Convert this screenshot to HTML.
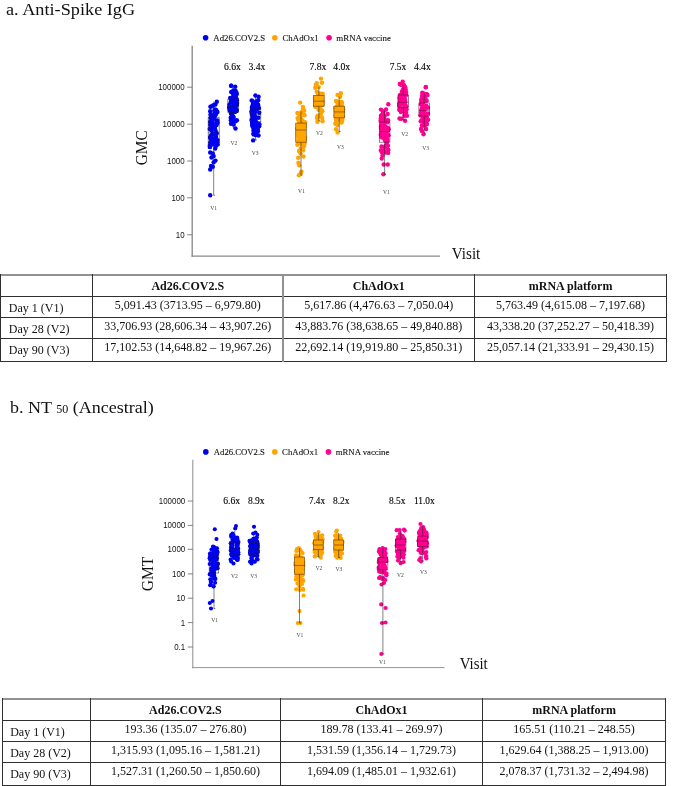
<!DOCTYPE html>
<html lang="en"><head><meta charset="utf-8"><title>Figure</title>
<style>
html,body{margin:0;padding:0;background:#fff}
#pg{position:relative;width:685px;height:786px;overflow:hidden;background:#fff;font-family:"Liberation Serif","Times New Roman",serif;color:#111}
#pg svg{position:absolute;left:0;top:0}
.ttl{position:absolute;white-space:nowrap;font-size:17.5px;line-height:20px;color:#111;transform-origin:0 0}
.ttl small{font-size:11.7px}
.ln{position:absolute;background:#2e2e2e}
.tx{position:absolute;white-space:nowrap;font-size:12px;line-height:14px;text-align:center;color:#111}
.tx.b{font-weight:bold}
.tx.l{text-align:left}
</style></head><body>
<div id="pg">
<div class="ttl" style="left:6.0px;top:-1.1px;transform:scaleX(1.042)">a. Anti-Spike IgG</div>
<div class="ttl" style="left:10.4px;top:397.45px;transform:scaleX(1.03)">b. NT <small>50</small> (Ancestral)</div>
<svg width="685" height="786" viewBox="0 0 685 786">
<g id="chartA"><circle cx="205.6" cy="37.8" r="2.8" fill="#0000f0"/><text x="213.3" y="40.5" font-family='"Liberation Serif","Times New Roman",serif' font-size="8.6" fill="#111" stroke="#111" stroke-width="0.1" textLength="51.9" lengthAdjust="spacingAndGlyphs">Ad26.COV2.S</text><circle cx="274.8" cy="37.8" r="2.8" fill="#ffa400"/><text x="282.5" y="40.5" font-family='"Liberation Serif","Times New Roman",serif' font-size="8.6" fill="#111" stroke="#111" stroke-width="0.1" textLength="36.2" lengthAdjust="spacingAndGlyphs">ChAdOx1</text><circle cx="329.1" cy="37.8" r="2.8" fill="#ff0090"/><text x="336.3" y="40.5" font-family='"Liberation Serif","Times New Roman",serif' font-size="8.6" fill="#111" stroke="#111" stroke-width="0.1" textLength="54.6" lengthAdjust="spacingAndGlyphs">mRNA vaccine</text><line x1="192.2" y1="45.8" x2="192.2" y2="256.70000000000005" stroke="#8a8a8a" stroke-width="1.35"/><line x1="191.5" y1="256.1" x2="440" y2="256.1" stroke="#8a8a8a" stroke-width="1.15"/><line x1="187.2" y1="87.2" x2="192.2" y2="87.2" stroke="#666" stroke-width="0.8"/><text x="158.2" y="90.2" font-family='"Liberation Sans",Arial,sans-serif' font-size="8.8" fill="#111" textLength="26.4" lengthAdjust="spacingAndGlyphs">100000</text><line x1="187.2" y1="124.2" x2="192.2" y2="124.2" stroke="#666" stroke-width="0.8"/><text x="162.6" y="127.2" font-family='"Liberation Sans",Arial,sans-serif' font-size="8.8" fill="#111" textLength="22.0" lengthAdjust="spacingAndGlyphs">10000</text><line x1="187.2" y1="161" x2="192.2" y2="161" stroke="#666" stroke-width="0.8"/><text x="167.0" y="164.0" font-family='"Liberation Sans",Arial,sans-serif' font-size="8.8" fill="#111" textLength="17.6" lengthAdjust="spacingAndGlyphs">1000</text><line x1="187.2" y1="197.8" x2="192.2" y2="197.8" stroke="#666" stroke-width="0.8"/><text x="171.4" y="200.8" font-family='"Liberation Sans",Arial,sans-serif' font-size="8.8" fill="#111" textLength="13.2" lengthAdjust="spacingAndGlyphs">100</text><line x1="187.2" y1="234.8" x2="192.2" y2="234.8" stroke="#666" stroke-width="0.8"/><text x="175.8" y="237.8" font-family='"Liberation Sans",Arial,sans-serif' font-size="8.8" fill="#111" textLength="8.8" lengthAdjust="spacingAndGlyphs">10</text><text transform="translate(147.1,147.8) scale(1.075,1) rotate(-90)" font-family='"Liberation Serif","Times New Roman",serif' font-size="15.4" fill="#111" text-anchor="middle">GMC</text><text x="451.8" y="258.6" font-family='"Liberation Serif","Times New Roman",serif' font-size="16.3" fill="#111" textLength="28.5" lengthAdjust="spacingAndGlyphs">Visit</text><text x="224.0" y="70.4" font-family='"Liberation Serif","Times New Roman",serif' font-size="10.2" fill="#000" stroke="#000" stroke-width="0.12" textLength="16.8" lengthAdjust="spacingAndGlyphs">6.6x</text><text x="248.5" y="70.4" font-family='"Liberation Serif","Times New Roman",serif' font-size="10.2" fill="#000" stroke="#000" stroke-width="0.12" textLength="16.9" lengthAdjust="spacingAndGlyphs">3.4x</text><text x="309.5" y="70.4" font-family='"Liberation Serif","Times New Roman",serif' font-size="10.2" fill="#000" stroke="#000" stroke-width="0.12" textLength="16.8" lengthAdjust="spacingAndGlyphs">7.8x</text><text x="333.3" y="70.4" font-family='"Liberation Serif","Times New Roman",serif' font-size="10.2" fill="#000" stroke="#000" stroke-width="0.12" textLength="16.9" lengthAdjust="spacingAndGlyphs">4.0x</text><text x="389.7" y="70.4" font-family='"Liberation Serif","Times New Roman",serif' font-size="10.2" fill="#000" stroke="#000" stroke-width="0.12" textLength="16.5" lengthAdjust="spacingAndGlyphs">7.5x</text><text x="413.9" y="70.4" font-family='"Liberation Serif","Times New Roman",serif' font-size="10.2" fill="#000" stroke="#000" stroke-width="0.12" textLength="16.8" lengthAdjust="spacingAndGlyphs">4.4x</text><g stroke="#2c2c2c" stroke-width="0.6" fill="none"><line x1="213.5" y1="195.3" x2="215.1" y2="195.3"/><line x1="213.7" y1="101.7" x2="213.7" y2="117.2"/><line x1="213.7" y1="145.4" x2="213.7" y2="195.3"/></g><g fill="#0000f0"><circle cx="214.9" cy="127.0" r="2.2"/><circle cx="210.3" cy="142.4" r="2.2"/><circle cx="210.2" cy="111.2" r="2.2"/><circle cx="213.8" cy="128.0" r="2.2"/><circle cx="210.3" cy="137.6" r="2.2"/><circle cx="216.3" cy="143.4" r="2.2"/><circle cx="214.7" cy="142.3" r="2.2"/><circle cx="217.3" cy="142.2" r="2.2"/><circle cx="217.5" cy="112.1" r="2.2"/><circle cx="210.1" cy="122.0" r="2.2"/><circle cx="210.9" cy="142.6" r="2.2"/><circle cx="210.6" cy="117.9" r="2.2"/><circle cx="211.1" cy="117.5" r="2.2"/><circle cx="212.7" cy="116.6" r="2.2"/><circle cx="210.2" cy="124.9" r="2.2"/><circle cx="211.3" cy="130.5" r="2.2"/><circle cx="212.2" cy="122.5" r="2.2"/><circle cx="214.4" cy="110.6" r="2.2"/><circle cx="216.1" cy="114.1" r="2.2"/><circle cx="215.3" cy="137.5" r="2.2"/><circle cx="213.9" cy="133.9" r="2.2"/><circle cx="212.0" cy="106.2" r="2.2"/><circle cx="213.0" cy="142.2" r="2.2"/><circle cx="215.8" cy="131.5" r="2.2"/><circle cx="210.0" cy="145.3" r="2.2"/><circle cx="214.3" cy="113.4" r="2.2"/><circle cx="215.3" cy="144.3" r="2.2"/><circle cx="214.5" cy="118.7" r="2.2"/><circle cx="216.4" cy="110.3" r="2.2"/><circle cx="217.3" cy="120.5" r="2.2"/><circle cx="210.2" cy="137.4" r="2.2"/><circle cx="217.6" cy="122.8" r="2.2"/><circle cx="212.8" cy="139.6" r="2.2"/><circle cx="215.0" cy="115.7" r="2.2"/><circle cx="211.0" cy="135.9" r="2.2"/><circle cx="215.8" cy="137.8" r="2.2"/><circle cx="210.7" cy="137.3" r="2.2"/><circle cx="216.7" cy="133.3" r="2.2"/><circle cx="214.1" cy="142.7" r="2.2"/><circle cx="213.0" cy="142.8" r="2.2"/><circle cx="212.6" cy="118.7" r="2.2"/><circle cx="211.6" cy="139.7" r="2.2"/><circle cx="211.6" cy="142.3" r="2.2"/><circle cx="211.8" cy="135.3" r="2.2"/><circle cx="212.7" cy="133.5" r="2.2"/><circle cx="215.2" cy="109.5" r="2.2"/><circle cx="215.1" cy="129.8" r="2.2"/><circle cx="215.9" cy="146.1" r="2.2"/><circle cx="210.5" cy="114.6" r="2.2"/><circle cx="214.8" cy="144.6" r="2.2"/><circle cx="211.4" cy="139.4" r="2.2"/><circle cx="211.0" cy="135.6" r="2.2"/><circle cx="209.7" cy="128.9" r="2.2"/><circle cx="210.9" cy="138.1" r="2.2"/><circle cx="209.9" cy="147.1" r="2.2"/><circle cx="216.7" cy="143.4" r="2.2"/><circle cx="211.7" cy="123.0" r="2.2"/><circle cx="212.5" cy="124.3" r="2.2"/><circle cx="216.5" cy="125.1" r="2.2"/><circle cx="217.6" cy="140.1" r="2.2"/><circle cx="210.4" cy="106.7" r="2.2"/><circle cx="210.5" cy="137.5" r="2.2"/><circle cx="216.3" cy="122.9" r="2.2"/><circle cx="211.0" cy="145.1" r="2.2"/><circle cx="213.9" cy="139.5" r="2.2"/><circle cx="209.9" cy="146.9" r="2.2"/><circle cx="216.6" cy="121.6" r="2.2"/><circle cx="212.6" cy="127.0" r="2.2"/><circle cx="211.0" cy="115.8" r="2.2"/><circle cx="215.9" cy="136.1" r="2.2"/><circle cx="216.2" cy="125.0" r="2.2"/><circle cx="217.6" cy="144.5" r="2.2"/><circle cx="215.4" cy="104.5" r="2.2"/><circle cx="215.2" cy="148.5" r="2.2"/><circle cx="210.2" cy="195.3" r="2.2"/><circle cx="216.8" cy="101.7" r="2.2"/><circle cx="213.4" cy="105.2" r="2.2"/><circle cx="210.2" cy="152.5" r="2.2"/><circle cx="212.8" cy="153.4" r="2.2"/><circle cx="213.7" cy="156.1" r="2.2"/><circle cx="211.5" cy="157.5" r="2.2"/><circle cx="215.5" cy="160.6" r="2.2"/><circle cx="213.7" cy="162.3" r="2.2"/><circle cx="211.0" cy="165.9" r="2.2"/><circle cx="212.8" cy="166.8" r="2.2"/><circle cx="210.2" cy="169.5" r="2.2"/></g><g stroke="#1a1a3a" stroke-opacity="0.75" stroke-width="0.7" fill="none"><rect x="208.2" y="117.2" width="11.0" height="28.2" fill="none" fill-opacity="0.85"/><line x1="208.2" y1="133.0" x2="219.2" y2="133.0"/></g><g stroke="#2c2c2c" stroke-width="0.6" fill="none"><line x1="233.0" y1="128.0" x2="234.6" y2="128.0"/><line x1="233.2" y1="88.0" x2="233.2" y2="99.0"/><line x1="233.2" y1="112.4" x2="233.2" y2="128.0"/></g><g fill="#0000f0"><circle cx="231.0" cy="113.5" r="2.2"/><circle cx="233.3" cy="90.5" r="2.2"/><circle cx="229.4" cy="104.4" r="2.2"/><circle cx="231.4" cy="108.1" r="2.2"/><circle cx="236.9" cy="105.1" r="2.2"/><circle cx="232.8" cy="122.8" r="2.2"/><circle cx="236.8" cy="94.1" r="2.2"/><circle cx="231.0" cy="101.2" r="2.2"/><circle cx="230.8" cy="111.8" r="2.2"/><circle cx="236.4" cy="110.3" r="2.2"/><circle cx="235.9" cy="120.7" r="2.2"/><circle cx="235.6" cy="91.0" r="2.2"/><circle cx="229.9" cy="108.1" r="2.2"/><circle cx="235.5" cy="93.9" r="2.2"/><circle cx="235.2" cy="86.7" r="2.2"/><circle cx="235.5" cy="99.5" r="2.2"/><circle cx="231.9" cy="106.9" r="2.2"/><circle cx="232.4" cy="115.2" r="2.2"/><circle cx="235.0" cy="121.4" r="2.2"/><circle cx="230.4" cy="108.8" r="2.2"/><circle cx="236.4" cy="111.0" r="2.2"/><circle cx="235.8" cy="108.1" r="2.2"/><circle cx="237.0" cy="100.5" r="2.2"/><circle cx="233.6" cy="100.7" r="2.2"/><circle cx="230.2" cy="97.9" r="2.2"/><circle cx="234.4" cy="108.6" r="2.2"/><circle cx="232.7" cy="102.0" r="2.2"/><circle cx="230.9" cy="120.2" r="2.2"/><circle cx="231.2" cy="92.0" r="2.2"/><circle cx="233.9" cy="103.9" r="2.2"/><circle cx="231.3" cy="113.8" r="2.2"/><circle cx="236.5" cy="101.2" r="2.2"/><circle cx="232.0" cy="108.8" r="2.2"/><circle cx="236.4" cy="92.7" r="2.2"/><circle cx="232.6" cy="109.8" r="2.2"/><circle cx="233.5" cy="117.3" r="2.2"/><circle cx="233.4" cy="99.9" r="2.2"/><circle cx="230.7" cy="117.7" r="2.2"/><circle cx="229.2" cy="107.4" r="2.2"/><circle cx="233.0" cy="108.1" r="2.2"/><circle cx="235.0" cy="99.9" r="2.2"/><circle cx="233.3" cy="97.3" r="2.2"/><circle cx="233.6" cy="102.8" r="2.2"/><circle cx="233.7" cy="107.1" r="2.2"/><circle cx="231.2" cy="101.2" r="2.2"/><circle cx="233.3" cy="103.0" r="2.2"/><circle cx="233.7" cy="124.6" r="2.2"/><circle cx="232.7" cy="107.5" r="2.2"/><circle cx="233.3" cy="96.6" r="2.2"/><circle cx="234.7" cy="98.0" r="2.2"/><circle cx="233.0" cy="93.7" r="2.2"/><circle cx="236.7" cy="110.0" r="2.2"/><circle cx="236.7" cy="99.3" r="2.2"/><circle cx="231.3" cy="85.8" r="2.2"/><circle cx="235.9" cy="96.9" r="2.2"/><circle cx="232.7" cy="109.6" r="2.2"/><circle cx="229.8" cy="110.2" r="2.2"/><circle cx="234.6" cy="106.3" r="2.2"/><circle cx="235.5" cy="110.3" r="2.2"/><circle cx="234.9" cy="111.1" r="2.2"/><circle cx="234.5" cy="102.4" r="2.2"/><circle cx="236.9" cy="120.2" r="2.2"/><circle cx="231.0" cy="123.8" r="2.2"/><circle cx="233.1" cy="116.6" r="2.2"/><circle cx="237.1" cy="102.9" r="2.2"/><circle cx="232.7" cy="109.2" r="2.2"/><circle cx="233.3" cy="100.6" r="2.2"/><circle cx="231.7" cy="102.4" r="2.2"/><circle cx="235.0" cy="112.1" r="2.2"/><circle cx="232.7" cy="119.8" r="2.2"/><circle cx="229.3" cy="107.7" r="2.2"/><circle cx="233.3" cy="98.9" r="2.2"/><circle cx="231.1" cy="85.7" r="2.2"/><circle cx="235.5" cy="128.5" r="2.2"/></g><g stroke="#1a1a3a" stroke-opacity="0.75" stroke-width="0.7" fill="none"><rect x="227.9" y="99.0" width="10.6" height="13.4" fill="none" fill-opacity="0.85"/><line x1="227.9" y1="106.0" x2="238.5" y2="106.0"/></g><g stroke="#2c2c2c" stroke-width="0.6" fill="none"><line x1="255.3" y1="140.0" x2="256.9" y2="140.0"/><line x1="255.5" y1="97.0" x2="255.5" y2="108.0"/><line x1="255.5" y1="121.7" x2="255.5" y2="140.0"/></g><g fill="#0000f0"><circle cx="257.8" cy="130.1" r="2.2"/><circle cx="253.6" cy="120.7" r="2.2"/><circle cx="251.8" cy="114.1" r="2.2"/><circle cx="252.5" cy="116.8" r="2.2"/><circle cx="254.9" cy="106.9" r="2.2"/><circle cx="253.6" cy="134.4" r="2.2"/><circle cx="252.7" cy="104.9" r="2.2"/><circle cx="257.1" cy="129.1" r="2.2"/><circle cx="252.2" cy="108.4" r="2.2"/><circle cx="254.9" cy="132.7" r="2.2"/><circle cx="252.1" cy="121.7" r="2.2"/><circle cx="257.9" cy="131.3" r="2.2"/><circle cx="252.2" cy="109.4" r="2.2"/><circle cx="258.4" cy="117.8" r="2.2"/><circle cx="255.1" cy="112.0" r="2.2"/><circle cx="258.9" cy="108.0" r="2.2"/><circle cx="253.6" cy="128.3" r="2.2"/><circle cx="253.4" cy="125.4" r="2.2"/><circle cx="252.4" cy="126.0" r="2.2"/><circle cx="253.1" cy="117.1" r="2.2"/><circle cx="254.0" cy="118.4" r="2.2"/><circle cx="253.8" cy="109.1" r="2.2"/><circle cx="255.5" cy="134.7" r="2.2"/><circle cx="251.6" cy="120.0" r="2.2"/><circle cx="253.5" cy="125.3" r="2.2"/><circle cx="255.9" cy="135.0" r="2.2"/><circle cx="253.0" cy="116.9" r="2.2"/><circle cx="252.4" cy="119.6" r="2.2"/><circle cx="255.5" cy="120.5" r="2.2"/><circle cx="258.2" cy="105.0" r="2.2"/><circle cx="257.0" cy="105.3" r="2.2"/><circle cx="259.4" cy="124.2" r="2.2"/><circle cx="257.2" cy="104.2" r="2.2"/><circle cx="256.6" cy="134.6" r="2.2"/><circle cx="251.9" cy="107.1" r="2.2"/><circle cx="252.5" cy="121.5" r="2.2"/><circle cx="253.5" cy="133.4" r="2.2"/><circle cx="252.8" cy="123.8" r="2.2"/><circle cx="258.5" cy="135.5" r="2.2"/><circle cx="256.9" cy="127.0" r="2.2"/><circle cx="253.8" cy="113.5" r="2.2"/><circle cx="255.2" cy="124.0" r="2.2"/><circle cx="253.6" cy="122.4" r="2.2"/><circle cx="259.2" cy="126.3" r="2.2"/><circle cx="253.5" cy="130.4" r="2.2"/><circle cx="259.2" cy="112.8" r="2.2"/><circle cx="251.5" cy="111.4" r="2.2"/><circle cx="254.6" cy="125.8" r="2.2"/><circle cx="253.1" cy="102.9" r="2.2"/><circle cx="255.5" cy="117.3" r="2.2"/><circle cx="252.2" cy="124.7" r="2.2"/><circle cx="254.7" cy="115.3" r="2.2"/><circle cx="253.9" cy="117.6" r="2.2"/><circle cx="253.4" cy="115.7" r="2.2"/><circle cx="257.5" cy="104.1" r="2.2"/><circle cx="256.8" cy="108.5" r="2.2"/><circle cx="254.6" cy="110.5" r="2.2"/><circle cx="252.7" cy="101.2" r="2.2"/><circle cx="251.9" cy="112.6" r="2.2"/><circle cx="258.2" cy="100.3" r="2.2"/><circle cx="257.4" cy="128.5" r="2.2"/><circle cx="258.0" cy="105.8" r="2.2"/><circle cx="255.5" cy="124.7" r="2.2"/><circle cx="258.2" cy="126.6" r="2.2"/><circle cx="256.2" cy="122.8" r="2.2"/><circle cx="258.6" cy="96.7" r="2.2"/><circle cx="253.3" cy="108.5" r="2.2"/><circle cx="251.7" cy="100.4" r="2.2"/><circle cx="252.3" cy="122.9" r="2.2"/><circle cx="258.2" cy="123.7" r="2.2"/><circle cx="256.5" cy="101.4" r="2.2"/><circle cx="256.9" cy="109.8" r="2.2"/><circle cx="255.4" cy="95.5" r="2.2"/><circle cx="253.1" cy="140.4" r="2.2"/></g><g stroke="#1a1a3a" stroke-opacity="0.75" stroke-width="0.7" fill="none"><rect x="250.2" y="108.0" width="10.6" height="13.7" fill="none" fill-opacity="0.85"/><line x1="250.2" y1="115.0" x2="260.8" y2="115.0"/></g><text x="213.7" y="210.2" font-family='"Liberation Serif","Times New Roman",serif' font-size="5.6" fill="#4a4a4a" text-anchor="middle">V1</text><text x="233.9" y="144.6" font-family='"Liberation Serif","Times New Roman",serif' font-size="5.6" fill="#4a4a4a" text-anchor="middle">V2</text><text x="255.2" y="154.8" font-family='"Liberation Serif","Times New Roman",serif' font-size="5.6" fill="#4a4a4a" text-anchor="middle">V3</text><g fill="#ffa400"><circle cx="301.0" cy="138.9" r="2.2"/><circle cx="301.3" cy="112.2" r="2.2"/><circle cx="302.9" cy="127.8" r="2.2"/><circle cx="299.0" cy="126.5" r="2.2"/><circle cx="302.8" cy="142.7" r="2.2"/><circle cx="298.6" cy="136.4" r="2.2"/><circle cx="301.0" cy="128.0" r="2.2"/><circle cx="302.5" cy="120.5" r="2.2"/><circle cx="303.1" cy="143.9" r="2.2"/><circle cx="297.6" cy="118.1" r="2.2"/><circle cx="298.2" cy="119.2" r="2.2"/><circle cx="299.4" cy="129.5" r="2.2"/><circle cx="297.5" cy="128.4" r="2.2"/><circle cx="299.2" cy="129.3" r="2.2"/><circle cx="302.4" cy="121.9" r="2.2"/><circle cx="299.3" cy="114.8" r="2.2"/><circle cx="300.7" cy="117.5" r="2.2"/><circle cx="297.9" cy="128.7" r="2.2"/><circle cx="304.8" cy="139.5" r="2.2"/><circle cx="304.5" cy="125.4" r="2.2"/><circle cx="303.6" cy="132.2" r="2.2"/><circle cx="299.1" cy="127.6" r="2.2"/><circle cx="298.7" cy="140.9" r="2.2"/><circle cx="301.2" cy="124.6" r="2.2"/><circle cx="304.6" cy="127.0" r="2.2"/><circle cx="302.6" cy="128.7" r="2.2"/><circle cx="300.9" cy="134.5" r="2.2"/><circle cx="300.9" cy="131.5" r="2.2"/><circle cx="300.6" cy="130.2" r="2.2"/><circle cx="299.8" cy="128.0" r="2.2"/><circle cx="299.5" cy="139.4" r="2.2"/><circle cx="303.0" cy="130.6" r="2.2"/><circle cx="303.7" cy="129.4" r="2.2"/><circle cx="299.3" cy="124.4" r="2.2"/><circle cx="305.0" cy="122.2" r="2.2"/><circle cx="301.7" cy="143.0" r="2.2"/><circle cx="299.2" cy="122.4" r="2.2"/><circle cx="297.4" cy="144.7" r="2.2"/><circle cx="299.0" cy="124.2" r="2.2"/><circle cx="298.5" cy="128.7" r="2.2"/><circle cx="304.1" cy="110.4" r="2.2"/><circle cx="304.3" cy="139.7" r="2.2"/><circle cx="304.5" cy="115.3" r="2.2"/><circle cx="297.4" cy="113.0" r="2.2"/><circle cx="302.9" cy="124.6" r="2.2"/><circle cx="302.2" cy="112.1" r="2.2"/><circle cx="299.3" cy="139.2" r="2.2"/><circle cx="298.0" cy="142.5" r="2.2"/><circle cx="299.4" cy="119.9" r="2.2"/><circle cx="302.9" cy="132.9" r="2.2"/><circle cx="302.2" cy="143.9" r="2.2"/><circle cx="299.4" cy="128.7" r="2.2"/><circle cx="298.3" cy="119.5" r="2.2"/><circle cx="298.3" cy="126.0" r="2.2"/><circle cx="301.0" cy="140.3" r="2.2"/><circle cx="305.0" cy="137.4" r="2.2"/><circle cx="298.5" cy="124.1" r="2.2"/><circle cx="297.7" cy="133.1" r="2.2"/><circle cx="298.9" cy="127.3" r="2.2"/><circle cx="299.1" cy="136.6" r="2.2"/><circle cx="303.0" cy="108.8" r="2.2"/><circle cx="300.3" cy="120.1" r="2.2"/><circle cx="300.0" cy="118.3" r="2.2"/><circle cx="299.7" cy="141.4" r="2.2"/><circle cx="304.7" cy="143.5" r="2.2"/><circle cx="298.0" cy="135.5" r="2.2"/><circle cx="303.9" cy="114.2" r="2.2"/><circle cx="298.7" cy="129.7" r="2.2"/><circle cx="300.2" cy="128.9" r="2.2"/><circle cx="300.6" cy="143.6" r="2.2"/><circle cx="304.0" cy="123.8" r="2.2"/><circle cx="302.7" cy="134.6" r="2.2"/><circle cx="302.9" cy="107.0" r="2.2"/><circle cx="300.9" cy="148.5" r="2.2"/><circle cx="300.2" cy="102.6" r="2.2"/><circle cx="299.0" cy="151.0" r="2.2"/><circle cx="303.2" cy="150.2" r="2.2"/><circle cx="300.5" cy="153.6" r="2.2"/><circle cx="304.0" cy="146.5" r="2.2"/><circle cx="298.4" cy="162.7" r="2.2"/><circle cx="299.3" cy="165.4" r="2.2"/><circle cx="301.4" cy="171.6" r="2.2"/><circle cx="300.7" cy="173.4" r="2.2"/><circle cx="298.9" cy="175.2" r="2.2"/><circle cx="303.5" cy="156.5" r="2.2"/><circle cx="298.2" cy="157.8" r="2.2"/></g><g stroke="#2c2c2c" stroke-width="0.6" fill="none"><line x1="300.8" y1="175.2" x2="302.4" y2="175.2"/><line x1="301.0" y1="111.4" x2="301.0" y2="123.1"/><line x1="301.0" y1="142.2" x2="301.0" y2="175.2"/></g><g stroke="#4a2a00" stroke-opacity="0.75" stroke-width="0.7" fill="none"><rect x="295.7" y="123.1" width="10.6" height="19.1" fill="#ffa400" fill-opacity="0.85"/><line x1="295.7" y1="130.0" x2="306.3" y2="130.0"/></g><g fill="#ffa400"><circle cx="319.6" cy="101.5" r="2.2"/><circle cx="322.3" cy="111.2" r="2.2"/><circle cx="321.5" cy="101.2" r="2.2"/><circle cx="316.9" cy="117.7" r="2.2"/><circle cx="319.1" cy="105.7" r="2.2"/><circle cx="320.4" cy="104.9" r="2.2"/><circle cx="320.1" cy="116.1" r="2.2"/><circle cx="321.0" cy="94.9" r="2.2"/><circle cx="315.2" cy="87.7" r="2.2"/><circle cx="321.2" cy="104.6" r="2.2"/><circle cx="320.1" cy="103.7" r="2.2"/><circle cx="316.9" cy="99.3" r="2.2"/><circle cx="320.0" cy="106.1" r="2.2"/><circle cx="315.5" cy="99.5" r="2.2"/><circle cx="319.1" cy="96.1" r="2.2"/><circle cx="316.7" cy="91.7" r="2.2"/><circle cx="319.7" cy="95.8" r="2.2"/><circle cx="318.6" cy="109.7" r="2.2"/><circle cx="322.6" cy="101.8" r="2.2"/><circle cx="318.7" cy="87.1" r="2.2"/><circle cx="316.8" cy="83.2" r="2.2"/><circle cx="320.5" cy="101.7" r="2.2"/><circle cx="318.9" cy="100.4" r="2.2"/><circle cx="320.3" cy="103.2" r="2.2"/><circle cx="320.2" cy="93.7" r="2.2"/><circle cx="322.3" cy="104.9" r="2.2"/><circle cx="317.6" cy="101.6" r="2.2"/><circle cx="318.3" cy="103.8" r="2.2"/><circle cx="321.3" cy="98.2" r="2.2"/><circle cx="320.8" cy="94.5" r="2.2"/><circle cx="322.7" cy="93.7" r="2.2"/><circle cx="317.4" cy="101.0" r="2.2"/><circle cx="316.7" cy="104.3" r="2.2"/><circle cx="321.0" cy="94.0" r="2.2"/><circle cx="318.9" cy="93.6" r="2.2"/><circle cx="318.2" cy="103.9" r="2.2"/><circle cx="320.2" cy="107.8" r="2.2"/><circle cx="318.0" cy="106.5" r="2.2"/><circle cx="316.6" cy="99.2" r="2.2"/><circle cx="315.3" cy="106.7" r="2.2"/><circle cx="315.4" cy="100.2" r="2.2"/><circle cx="322.0" cy="82.7" r="2.2"/><circle cx="320.8" cy="114.5" r="2.2"/><circle cx="317.5" cy="100.8" r="2.2"/><circle cx="320.9" cy="110.4" r="2.2"/><circle cx="317.9" cy="115.7" r="2.2"/><circle cx="317.9" cy="104.1" r="2.2"/><circle cx="314.9" cy="97.9" r="2.2"/><circle cx="317.1" cy="106.5" r="2.2"/><circle cx="315.9" cy="84.8" r="2.2"/><circle cx="322.6" cy="121.2" r="2.2"/><circle cx="321.5" cy="103.7" r="2.2"/><circle cx="321.5" cy="110.3" r="2.2"/><circle cx="318.7" cy="98.0" r="2.2"/><circle cx="317.9" cy="102.5" r="2.2"/><circle cx="317.8" cy="106.9" r="2.2"/><circle cx="322.1" cy="97.7" r="2.2"/><circle cx="321.4" cy="111.3" r="2.2"/><circle cx="321.0" cy="103.1" r="2.2"/><circle cx="315.4" cy="103.8" r="2.2"/><circle cx="322.3" cy="101.9" r="2.2"/><circle cx="322.1" cy="100.4" r="2.2"/><circle cx="317.6" cy="117.8" r="2.2"/><circle cx="319.8" cy="97.3" r="2.2"/><circle cx="317.4" cy="99.9" r="2.2"/><circle cx="317.1" cy="117.0" r="2.2"/><circle cx="322.2" cy="118.0" r="2.2"/><circle cx="320.0" cy="101.6" r="2.2"/><circle cx="316.8" cy="103.3" r="2.2"/><circle cx="318.7" cy="100.3" r="2.2"/><circle cx="318.0" cy="93.9" r="2.2"/><circle cx="318.8" cy="101.1" r="2.2"/><circle cx="321.0" cy="78.6" r="2.2"/><circle cx="317.4" cy="121.7" r="2.2"/></g><g stroke="#2c2c2c" stroke-width="0.6" fill="none"><line x1="318.7" y1="120.8" x2="320.3" y2="120.8"/><line x1="318.9" y1="86.9" x2="318.9" y2="95.5"/><line x1="318.9" y1="106.2" x2="318.9" y2="120.8"/></g><g stroke="#4a2a00" stroke-opacity="0.75" stroke-width="0.7" fill="none"><rect x="313.6" y="95.5" width="10.6" height="10.7" fill="#ffa400" fill-opacity="0.85"/><line x1="313.6" y1="101.2" x2="324.2" y2="101.2"/></g><g fill="#ffa400"><circle cx="341.6" cy="122.5" r="2.2"/><circle cx="341.4" cy="110.7" r="2.2"/><circle cx="340.1" cy="95.0" r="2.2"/><circle cx="338.1" cy="108.1" r="2.2"/><circle cx="341.5" cy="119.6" r="2.2"/><circle cx="341.2" cy="117.7" r="2.2"/><circle cx="337.2" cy="115.1" r="2.2"/><circle cx="339.6" cy="114.3" r="2.2"/><circle cx="337.8" cy="112.9" r="2.2"/><circle cx="343.1" cy="109.6" r="2.2"/><circle cx="336.0" cy="111.5" r="2.2"/><circle cx="339.2" cy="116.1" r="2.2"/><circle cx="337.1" cy="109.4" r="2.2"/><circle cx="338.5" cy="102.3" r="2.2"/><circle cx="341.2" cy="102.0" r="2.2"/><circle cx="342.0" cy="102.5" r="2.2"/><circle cx="341.9" cy="109.5" r="2.2"/><circle cx="337.6" cy="107.9" r="2.2"/><circle cx="341.1" cy="103.9" r="2.2"/><circle cx="336.8" cy="108.3" r="2.2"/><circle cx="336.4" cy="112.0" r="2.2"/><circle cx="342.3" cy="119.4" r="2.2"/><circle cx="338.4" cy="104.8" r="2.2"/><circle cx="343.1" cy="108.1" r="2.2"/><circle cx="341.7" cy="105.3" r="2.2"/><circle cx="340.4" cy="111.6" r="2.2"/><circle cx="339.0" cy="116.5" r="2.2"/><circle cx="341.8" cy="111.7" r="2.2"/><circle cx="335.5" cy="123.8" r="2.2"/><circle cx="337.5" cy="94.9" r="2.2"/><circle cx="343.0" cy="116.6" r="2.2"/><circle cx="339.9" cy="116.3" r="2.2"/><circle cx="342.1" cy="120.6" r="2.2"/><circle cx="338.8" cy="108.2" r="2.2"/><circle cx="342.8" cy="110.9" r="2.2"/><circle cx="336.0" cy="129.2" r="2.2"/><circle cx="336.9" cy="101.5" r="2.2"/><circle cx="338.1" cy="104.7" r="2.2"/><circle cx="337.2" cy="116.2" r="2.2"/><circle cx="340.0" cy="117.1" r="2.2"/><circle cx="335.3" cy="108.3" r="2.2"/><circle cx="337.8" cy="106.9" r="2.2"/><circle cx="337.7" cy="109.4" r="2.2"/><circle cx="336.8" cy="106.6" r="2.2"/><circle cx="335.7" cy="115.4" r="2.2"/><circle cx="336.0" cy="100.9" r="2.2"/><circle cx="340.3" cy="102.8" r="2.2"/><circle cx="335.9" cy="119.6" r="2.2"/><circle cx="338.5" cy="119.9" r="2.2"/><circle cx="337.5" cy="125.1" r="2.2"/><circle cx="337.7" cy="103.9" r="2.2"/><circle cx="338.5" cy="104.1" r="2.2"/><circle cx="342.1" cy="108.4" r="2.2"/><circle cx="336.8" cy="121.4" r="2.2"/><circle cx="341.0" cy="111.7" r="2.2"/><circle cx="342.4" cy="112.2" r="2.2"/><circle cx="338.6" cy="112.9" r="2.2"/><circle cx="342.3" cy="116.3" r="2.2"/><circle cx="338.9" cy="103.5" r="2.2"/><circle cx="339.6" cy="112.8" r="2.2"/><circle cx="340.3" cy="113.4" r="2.2"/><circle cx="340.2" cy="115.5" r="2.2"/><circle cx="338.2" cy="109.8" r="2.2"/><circle cx="337.5" cy="106.8" r="2.2"/><circle cx="339.4" cy="111.8" r="2.2"/><circle cx="339.1" cy="116.2" r="2.2"/><circle cx="341.6" cy="109.9" r="2.2"/><circle cx="336.2" cy="118.4" r="2.2"/><circle cx="342.7" cy="110.7" r="2.2"/><circle cx="335.6" cy="123.2" r="2.2"/><circle cx="342.6" cy="110.3" r="2.2"/><circle cx="340.2" cy="96.8" r="2.2"/><circle cx="340.8" cy="93.2" r="2.2"/><circle cx="337.6" cy="132.4" r="2.2"/></g><g stroke="#2c2c2c" stroke-width="0.6" fill="none"><line x1="339.0" y1="131.5" x2="340.6" y2="131.5"/><line x1="339.2" y1="96.7" x2="339.2" y2="106.2"/><line x1="339.2" y1="117.8" x2="339.2" y2="131.5"/></g><g stroke="#4a2a00" stroke-opacity="0.75" stroke-width="0.7" fill="none"><rect x="333.9" y="106.2" width="10.6" height="11.6" fill="#ffa400" fill-opacity="0.85"/><line x1="333.9" y1="111.9" x2="344.5" y2="111.9"/></g><text x="301.4" y="192.8" font-family='"Liberation Serif","Times New Roman",serif' font-size="5.6" fill="#4a4a4a" text-anchor="middle">V1</text><text x="319.4" y="135.2" font-family='"Liberation Serif","Times New Roman",serif' font-size="5.6" fill="#4a4a4a" text-anchor="middle">V2</text><text x="340.3" y="148.5" font-family='"Liberation Serif","Times New Roman",serif' font-size="5.6" fill="#4a4a4a" text-anchor="middle">V3</text><g fill="#ff0090"><circle cx="383.8" cy="134.0" r="2.2"/><circle cx="387.4" cy="121.8" r="2.2"/><circle cx="382.3" cy="136.3" r="2.2"/><circle cx="383.8" cy="123.6" r="2.2"/><circle cx="381.6" cy="117.7" r="2.2"/><circle cx="382.6" cy="129.9" r="2.2"/><circle cx="380.9" cy="126.8" r="2.2"/><circle cx="380.9" cy="109.6" r="2.2"/><circle cx="387.3" cy="122.4" r="2.2"/><circle cx="385.0" cy="147.4" r="2.2"/><circle cx="385.6" cy="146.0" r="2.2"/><circle cx="385.3" cy="126.4" r="2.2"/><circle cx="384.0" cy="147.0" r="2.2"/><circle cx="384.1" cy="123.2" r="2.2"/><circle cx="380.8" cy="118.6" r="2.2"/><circle cx="382.5" cy="119.5" r="2.2"/><circle cx="386.7" cy="120.4" r="2.2"/><circle cx="382.0" cy="134.8" r="2.2"/><circle cx="384.4" cy="116.2" r="2.2"/><circle cx="384.0" cy="138.0" r="2.2"/><circle cx="381.3" cy="136.7" r="2.2"/><circle cx="380.9" cy="115.8" r="2.2"/><circle cx="385.7" cy="138.3" r="2.2"/><circle cx="386.8" cy="144.3" r="2.2"/><circle cx="384.6" cy="126.8" r="2.2"/><circle cx="383.6" cy="131.2" r="2.2"/><circle cx="387.5" cy="139.7" r="2.2"/><circle cx="388.6" cy="129.2" r="2.2"/><circle cx="382.1" cy="128.6" r="2.2"/><circle cx="388.3" cy="149.9" r="2.2"/><circle cx="387.9" cy="129.6" r="2.2"/><circle cx="388.0" cy="145.7" r="2.2"/><circle cx="386.6" cy="145.0" r="2.2"/><circle cx="381.9" cy="137.4" r="2.2"/><circle cx="387.1" cy="141.6" r="2.2"/><circle cx="381.7" cy="124.7" r="2.2"/><circle cx="382.3" cy="131.1" r="2.2"/><circle cx="383.2" cy="130.1" r="2.2"/><circle cx="380.9" cy="150.3" r="2.2"/><circle cx="388.1" cy="135.4" r="2.2"/><circle cx="386.0" cy="140.1" r="2.2"/><circle cx="386.9" cy="139.1" r="2.2"/><circle cx="381.5" cy="126.3" r="2.2"/><circle cx="383.5" cy="111.8" r="2.2"/><circle cx="387.6" cy="127.7" r="2.2"/><circle cx="387.7" cy="114.0" r="2.2"/><circle cx="381.4" cy="125.2" r="2.2"/><circle cx="383.8" cy="130.6" r="2.2"/><circle cx="388.5" cy="135.2" r="2.2"/><circle cx="385.2" cy="120.9" r="2.2"/><circle cx="384.1" cy="116.2" r="2.2"/><circle cx="382.0" cy="152.3" r="2.2"/><circle cx="387.2" cy="131.3" r="2.2"/><circle cx="382.6" cy="127.1" r="2.2"/><circle cx="383.1" cy="113.6" r="2.2"/><circle cx="380.6" cy="120.8" r="2.2"/><circle cx="385.5" cy="140.3" r="2.2"/><circle cx="384.1" cy="133.4" r="2.2"/><circle cx="381.7" cy="129.1" r="2.2"/><circle cx="380.8" cy="134.8" r="2.2"/><circle cx="381.5" cy="146.4" r="2.2"/><circle cx="383.5" cy="131.7" r="2.2"/><circle cx="385.3" cy="134.9" r="2.2"/><circle cx="382.2" cy="152.2" r="2.2"/><circle cx="381.7" cy="120.1" r="2.2"/><circle cx="388.1" cy="120.3" r="2.2"/><circle cx="381.4" cy="131.9" r="2.2"/><circle cx="385.7" cy="140.5" r="2.2"/><circle cx="383.8" cy="150.6" r="2.2"/><circle cx="382.7" cy="113.7" r="2.2"/><circle cx="385.1" cy="133.1" r="2.2"/><circle cx="384.2" cy="119.5" r="2.2"/><circle cx="388.1" cy="150.0" r="2.2"/><circle cx="387.8" cy="130.4" r="2.2"/><circle cx="381.0" cy="120.9" r="2.2"/><circle cx="382.5" cy="117.4" r="2.2"/><circle cx="381.1" cy="128.7" r="2.2"/><circle cx="385.0" cy="132.0" r="2.2"/><circle cx="388.1" cy="129.3" r="2.2"/><circle cx="385.5" cy="138.1" r="2.2"/><circle cx="384.7" cy="139.8" r="2.2"/><circle cx="382.0" cy="115.2" r="2.2"/><circle cx="383.1" cy="111.4" r="2.2"/><circle cx="387.7" cy="130.1" r="2.2"/><circle cx="386.0" cy="109.5" r="2.2"/><circle cx="385.6" cy="152.5" r="2.2"/><circle cx="388.3" cy="104.2" r="2.2"/><circle cx="382.5" cy="155.6" r="2.2"/><circle cx="388.2" cy="152.9" r="2.2"/><circle cx="383.7" cy="164.5" r="2.2"/><circle cx="387.8" cy="164.5" r="2.2"/><circle cx="383.4" cy="174.3" r="2.2"/><circle cx="381.8" cy="158.5" r="2.2"/></g><g stroke="#2c2c2c" stroke-width="0.6" fill="none"><line x1="384.4" y1="174.3" x2="386.0" y2="174.3"/><line x1="384.6" y1="110.6" x2="384.6" y2="122.0"/><line x1="384.6" y1="142.2" x2="384.6" y2="174.3"/></g><g stroke="#5a0030" stroke-opacity="0.75" stroke-width="0.7" fill="none"><rect x="379.3" y="122.0" width="10.6" height="20.2" fill="none" fill-opacity="0.85"/><line x1="379.3" y1="131.5" x2="389.9" y2="131.5"/></g><g fill="#ff0090"><circle cx="399.4" cy="105.1" r="2.2"/><circle cx="403.0" cy="110.7" r="2.2"/><circle cx="405.2" cy="87.3" r="2.2"/><circle cx="400.1" cy="94.9" r="2.2"/><circle cx="401.2" cy="104.3" r="2.2"/><circle cx="405.3" cy="110.3" r="2.2"/><circle cx="404.9" cy="104.4" r="2.2"/><circle cx="401.4" cy="110.4" r="2.2"/><circle cx="403.7" cy="88.1" r="2.2"/><circle cx="403.5" cy="84.6" r="2.2"/><circle cx="401.4" cy="108.6" r="2.2"/><circle cx="401.0" cy="84.5" r="2.2"/><circle cx="401.4" cy="103.5" r="2.2"/><circle cx="401.2" cy="101.1" r="2.2"/><circle cx="405.3" cy="101.4" r="2.2"/><circle cx="401.9" cy="91.9" r="2.2"/><circle cx="401.2" cy="118.8" r="2.2"/><circle cx="404.8" cy="113.0" r="2.2"/><circle cx="404.6" cy="93.9" r="2.2"/><circle cx="406.0" cy="112.4" r="2.2"/><circle cx="404.9" cy="100.8" r="2.2"/><circle cx="405.1" cy="108.4" r="2.2"/><circle cx="403.9" cy="93.2" r="2.2"/><circle cx="404.3" cy="99.7" r="2.2"/><circle cx="399.9" cy="108.2" r="2.2"/><circle cx="399.5" cy="106.6" r="2.2"/><circle cx="400.2" cy="99.1" r="2.2"/><circle cx="400.4" cy="109.8" r="2.2"/><circle cx="399.5" cy="98.0" r="2.2"/><circle cx="404.4" cy="115.7" r="2.2"/><circle cx="404.9" cy="106.0" r="2.2"/><circle cx="404.0" cy="102.1" r="2.2"/><circle cx="402.2" cy="98.4" r="2.2"/><circle cx="406.4" cy="109.2" r="2.2"/><circle cx="399.8" cy="83.9" r="2.2"/><circle cx="406.9" cy="115.8" r="2.2"/><circle cx="400.2" cy="84.4" r="2.2"/><circle cx="399.6" cy="103.6" r="2.2"/><circle cx="406.1" cy="106.6" r="2.2"/><circle cx="405.9" cy="107.2" r="2.2"/><circle cx="404.4" cy="88.0" r="2.2"/><circle cx="400.1" cy="101.2" r="2.2"/><circle cx="405.4" cy="106.4" r="2.2"/><circle cx="402.7" cy="104.6" r="2.2"/><circle cx="399.5" cy="110.0" r="2.2"/><circle cx="405.0" cy="102.0" r="2.2"/><circle cx="402.2" cy="109.7" r="2.2"/><circle cx="403.3" cy="90.2" r="2.2"/><circle cx="399.5" cy="109.8" r="2.2"/><circle cx="402.6" cy="90.2" r="2.2"/><circle cx="402.1" cy="85.0" r="2.2"/><circle cx="404.9" cy="108.4" r="2.2"/><circle cx="406.2" cy="94.9" r="2.2"/><circle cx="400.0" cy="100.6" r="2.2"/><circle cx="399.3" cy="104.7" r="2.2"/><circle cx="400.9" cy="96.3" r="2.2"/><circle cx="399.3" cy="104.3" r="2.2"/><circle cx="405.7" cy="89.7" r="2.2"/><circle cx="400.8" cy="103.0" r="2.2"/><circle cx="406.0" cy="92.3" r="2.2"/><circle cx="401.4" cy="102.7" r="2.2"/><circle cx="401.0" cy="109.3" r="2.2"/><circle cx="404.9" cy="99.3" r="2.2"/><circle cx="404.4" cy="97.1" r="2.2"/><circle cx="399.9" cy="102.4" r="2.2"/><circle cx="405.6" cy="105.7" r="2.2"/><circle cx="404.3" cy="85.9" r="2.2"/><circle cx="402.5" cy="95.6" r="2.2"/><circle cx="406.4" cy="109.6" r="2.2"/><circle cx="399.5" cy="118.5" r="2.2"/><circle cx="400.9" cy="112.1" r="2.2"/><circle cx="403.3" cy="100.4" r="2.2"/><circle cx="402.7" cy="81.6" r="2.2"/><circle cx="405.1" cy="120.8" r="2.2"/></g><g stroke="#2c2c2c" stroke-width="0.6" fill="none"><line x1="403.1" y1="120.0" x2="404.7" y2="120.0"/><line x1="403.3" y1="85.0" x2="403.3" y2="95.0"/><line x1="403.3" y1="107.4" x2="403.3" y2="120.0"/></g><g stroke="#5a0030" stroke-opacity="0.75" stroke-width="0.7" fill="none"><rect x="398.0" y="95.0" width="10.6" height="12.4" fill="none" fill-opacity="0.85"/><line x1="398.0" y1="102.4" x2="408.6" y2="102.4"/></g><g fill="#ff0090"><circle cx="424.5" cy="111.9" r="2.2"/><circle cx="426.2" cy="123.3" r="2.2"/><circle cx="423.0" cy="110.9" r="2.2"/><circle cx="422.8" cy="94.0" r="2.2"/><circle cx="425.5" cy="123.0" r="2.2"/><circle cx="426.1" cy="129.0" r="2.2"/><circle cx="426.4" cy="116.6" r="2.2"/><circle cx="424.8" cy="121.4" r="2.2"/><circle cx="427.3" cy="119.6" r="2.2"/><circle cx="422.1" cy="119.7" r="2.2"/><circle cx="425.8" cy="114.1" r="2.2"/><circle cx="426.9" cy="119.7" r="2.2"/><circle cx="422.2" cy="114.4" r="2.2"/><circle cx="422.8" cy="116.1" r="2.2"/><circle cx="422.8" cy="103.8" r="2.2"/><circle cx="421.7" cy="109.7" r="2.2"/><circle cx="421.0" cy="129.0" r="2.2"/><circle cx="427.9" cy="107.7" r="2.2"/><circle cx="428.1" cy="119.7" r="2.2"/><circle cx="426.6" cy="117.4" r="2.2"/><circle cx="421.8" cy="109.3" r="2.2"/><circle cx="425.3" cy="98.4" r="2.2"/><circle cx="423.3" cy="116.7" r="2.2"/><circle cx="420.5" cy="115.5" r="2.2"/><circle cx="425.7" cy="94.2" r="2.2"/><circle cx="424.2" cy="122.7" r="2.2"/><circle cx="421.3" cy="101.9" r="2.2"/><circle cx="425.0" cy="101.1" r="2.2"/><circle cx="427.5" cy="95.0" r="2.2"/><circle cx="423.6" cy="121.3" r="2.2"/><circle cx="423.6" cy="93.5" r="2.2"/><circle cx="422.0" cy="102.0" r="2.2"/><circle cx="426.4" cy="106.5" r="2.2"/><circle cx="425.8" cy="87.3" r="2.2"/><circle cx="425.3" cy="121.0" r="2.2"/><circle cx="423.8" cy="96.7" r="2.2"/><circle cx="421.0" cy="104.4" r="2.2"/><circle cx="423.6" cy="125.5" r="2.2"/><circle cx="425.2" cy="114.3" r="2.2"/><circle cx="422.2" cy="92.8" r="2.2"/><circle cx="425.2" cy="99.3" r="2.2"/><circle cx="423.5" cy="116.5" r="2.2"/><circle cx="421.7" cy="98.6" r="2.2"/><circle cx="423.3" cy="99.3" r="2.2"/><circle cx="424.1" cy="94.1" r="2.2"/><circle cx="424.5" cy="113.8" r="2.2"/><circle cx="421.5" cy="110.1" r="2.2"/><circle cx="424.4" cy="116.0" r="2.2"/><circle cx="424.5" cy="122.7" r="2.2"/><circle cx="425.9" cy="119.5" r="2.2"/><circle cx="426.8" cy="94.2" r="2.2"/><circle cx="424.4" cy="109.3" r="2.2"/><circle cx="421.9" cy="125.5" r="2.2"/><circle cx="426.3" cy="106.0" r="2.2"/><circle cx="421.2" cy="100.1" r="2.2"/><circle cx="420.7" cy="121.3" r="2.2"/><circle cx="422.4" cy="109.5" r="2.2"/><circle cx="423.5" cy="109.1" r="2.2"/><circle cx="423.6" cy="111.7" r="2.2"/><circle cx="422.3" cy="107.2" r="2.2"/><circle cx="422.0" cy="100.4" r="2.2"/><circle cx="424.4" cy="109.1" r="2.2"/><circle cx="423.3" cy="114.6" r="2.2"/><circle cx="421.9" cy="130.9" r="2.2"/><circle cx="426.7" cy="124.3" r="2.2"/><circle cx="425.3" cy="125.1" r="2.2"/><circle cx="422.0" cy="96.1" r="2.2"/><circle cx="427.9" cy="113.4" r="2.2"/><circle cx="426.7" cy="100.7" r="2.2"/><circle cx="426.7" cy="123.7" r="2.2"/><circle cx="424.6" cy="101.2" r="2.2"/><circle cx="421.2" cy="112.5" r="2.2"/><circle cx="425.8" cy="87.0" r="2.2"/><circle cx="423.5" cy="134.2" r="2.2"/></g><g stroke="#2c2c2c" stroke-width="0.6" fill="none"><line x1="424.0" y1="133.3" x2="425.6" y2="133.3"/><line x1="424.2" y1="93.2" x2="424.2" y2="103.0"/><line x1="424.2" y1="116.0" x2="424.2" y2="133.3"/></g><g stroke="#5a0030" stroke-opacity="0.75" stroke-width="0.7" fill="none"><rect x="418.9" y="103.0" width="10.6" height="13.0" fill="none" fill-opacity="0.85"/><line x1="418.9" y1="110.6" x2="429.5" y2="110.6"/></g><text x="386.4" y="194.0" font-family='"Liberation Serif","Times New Roman",serif' font-size="5.6" fill="#4a4a4a" text-anchor="middle">V1</text><text x="404.6" y="136.4" font-family='"Liberation Serif","Times New Roman",serif' font-size="5.6" fill="#4a4a4a" text-anchor="middle">V2</text><text x="425.6" y="149.8" font-family='"Liberation Serif","Times New Roman",serif' font-size="5.6" fill="#4a4a4a" text-anchor="middle">V3</text></g>
<g id="chartB"><circle cx="205.8" cy="451.9" r="2.8" fill="#0000f0"/><text x="213.8" y="454.6" font-family='"Liberation Serif","Times New Roman",serif' font-size="8.6" fill="#111" stroke="#111" stroke-width="0.1" textLength="51.1" lengthAdjust="spacingAndGlyphs">Ad26.COV2.S</text><circle cx="274.8" cy="451.9" r="2.8" fill="#ffa400"/><text x="282.1" y="454.6" font-family='"Liberation Serif","Times New Roman",serif' font-size="8.6" fill="#111" stroke="#111" stroke-width="0.1" textLength="36.1" lengthAdjust="spacingAndGlyphs">ChAdOx1</text><circle cx="328.4" cy="451.9" r="2.8" fill="#ff0090"/><text x="335.7" y="454.6" font-family='"Liberation Serif","Times New Roman",serif' font-size="8.6" fill="#111" stroke="#111" stroke-width="0.1" textLength="53.7" lengthAdjust="spacingAndGlyphs">mRNA vaccine</text><line x1="192.8" y1="459.7" x2="192.8" y2="668.2" stroke="#969696" stroke-width="1.1"/><line x1="192.10000000000002" y1="667.6" x2="444.5" y2="667.6" stroke="#969696" stroke-width="1.0"/><line x1="187.8" y1="501.0" x2="192.8" y2="501.0" stroke="#666" stroke-width="0.8"/><text x="158.8" y="504.0" font-family='"Liberation Sans",Arial,sans-serif' font-size="8.8" fill="#111" textLength="26.4" lengthAdjust="spacingAndGlyphs">100000</text><line x1="187.8" y1="525.4" x2="192.8" y2="525.4" stroke="#666" stroke-width="0.8"/><text x="163.2" y="528.4" font-family='"Liberation Sans",Arial,sans-serif' font-size="8.8" fill="#111" textLength="22.0" lengthAdjust="spacingAndGlyphs">10000</text><line x1="187.8" y1="549.3" x2="192.8" y2="549.3" stroke="#666" stroke-width="0.8"/><text x="167.6" y="552.3" font-family='"Liberation Sans",Arial,sans-serif' font-size="8.8" fill="#111" textLength="17.6" lengthAdjust="spacingAndGlyphs">1000</text><line x1="187.8" y1="573.9" x2="192.8" y2="573.9" stroke="#666" stroke-width="0.8"/><text x="172.0" y="576.9" font-family='"Liberation Sans",Arial,sans-serif' font-size="8.8" fill="#111" textLength="13.2" lengthAdjust="spacingAndGlyphs">100</text><line x1="187.8" y1="598.2" x2="192.8" y2="598.2" stroke="#666" stroke-width="0.8"/><text x="176.4" y="601.2" font-family='"Liberation Sans",Arial,sans-serif' font-size="8.8" fill="#111" textLength="8.8" lengthAdjust="spacingAndGlyphs">10</text><line x1="187.8" y1="622.6" x2="192.8" y2="622.6" stroke="#666" stroke-width="0.8"/><text x="180.8" y="625.6" font-family='"Liberation Sans",Arial,sans-serif' font-size="8.8" fill="#111" textLength="4.4" lengthAdjust="spacingAndGlyphs">1</text><line x1="187.8" y1="647" x2="192.8" y2="647" stroke="#666" stroke-width="0.8"/><text x="174.2" y="650.0" font-family='"Liberation Sans",Arial,sans-serif' font-size="8.8" fill="#111" textLength="11.0" lengthAdjust="spacingAndGlyphs">0.1</text><text transform="translate(153.3,574.0) scale(1.06,1) rotate(-90)" font-family='"Liberation Serif","Times New Roman",serif' font-size="15.6" fill="#111" text-anchor="middle">GMT</text><text x="459.7" y="669.3" font-family='"Liberation Serif","Times New Roman",serif' font-size="16.2" fill="#111" textLength="28.0" lengthAdjust="spacingAndGlyphs">Visit</text><text x="223.2" y="503.9" font-family='"Liberation Serif","Times New Roman",serif' font-size="10.2" fill="#000" stroke="#000" stroke-width="0.12" textLength="16.8" lengthAdjust="spacingAndGlyphs">6.6x</text><text x="247.9" y="503.9" font-family='"Liberation Serif","Times New Roman",serif' font-size="10.2" fill="#000" stroke="#000" stroke-width="0.12" textLength="16.7" lengthAdjust="spacingAndGlyphs">8.9x</text><text x="309.0" y="503.9" font-family='"Liberation Serif","Times New Roman",serif' font-size="10.2" fill="#000" stroke="#000" stroke-width="0.12" textLength="16.0" lengthAdjust="spacingAndGlyphs">7.4x</text><text x="333.0" y="503.9" font-family='"Liberation Serif","Times New Roman",serif' font-size="10.2" fill="#000" stroke="#000" stroke-width="0.12" textLength="16.5" lengthAdjust="spacingAndGlyphs">8.2x</text><text x="389.0" y="503.9" font-family='"Liberation Serif","Times New Roman",serif' font-size="10.2" fill="#000" stroke="#000" stroke-width="0.12" textLength="16.5" lengthAdjust="spacingAndGlyphs">8.5x</text><text x="414.0" y="503.9" font-family='"Liberation Serif","Times New Roman",serif' font-size="10.2" fill="#000" stroke="#000" stroke-width="0.12" textLength="20.7" lengthAdjust="spacingAndGlyphs">11.0x</text><g stroke="#2c2c2c" stroke-width="0.6" fill="none"><line x1="213.8" y1="608.6" x2="215.4" y2="608.6"/><line x1="214.0" y1="546.0" x2="214.0" y2="557.0"/><line x1="214.0" y1="573.0" x2="214.0" y2="608.6"/></g><g fill="#0000f0"><circle cx="212.9" cy="570.7" r="2.05"/><circle cx="211.8" cy="557.5" r="2.05"/><circle cx="209.6" cy="558.3" r="2.05"/><circle cx="216.0" cy="568.7" r="2.05"/><circle cx="212.3" cy="563.7" r="2.05"/><circle cx="213.8" cy="573.7" r="2.05"/><circle cx="215.4" cy="549.3" r="2.05"/><circle cx="212.8" cy="572.4" r="2.05"/><circle cx="210.1" cy="585.2" r="2.05"/><circle cx="216.9" cy="554.8" r="2.05"/><circle cx="210.8" cy="581.7" r="2.05"/><circle cx="216.9" cy="553.2" r="2.05"/><circle cx="209.7" cy="564.0" r="2.05"/><circle cx="218.0" cy="563.9" r="2.05"/><circle cx="210.5" cy="560.2" r="2.05"/><circle cx="210.9" cy="557.6" r="2.05"/><circle cx="212.6" cy="567.5" r="2.05"/><circle cx="210.9" cy="584.7" r="2.05"/><circle cx="211.1" cy="581.7" r="2.05"/><circle cx="217.4" cy="552.8" r="2.05"/><circle cx="215.5" cy="548.4" r="2.05"/><circle cx="217.5" cy="551.7" r="2.05"/><circle cx="211.3" cy="570.5" r="2.05"/><circle cx="216.1" cy="560.0" r="2.05"/><circle cx="213.5" cy="551.0" r="2.05"/><circle cx="211.9" cy="576.0" r="2.05"/><circle cx="211.7" cy="554.7" r="2.05"/><circle cx="210.1" cy="573.8" r="2.05"/><circle cx="213.7" cy="575.5" r="2.05"/><circle cx="214.0" cy="573.5" r="2.05"/><circle cx="214.3" cy="575.7" r="2.05"/><circle cx="217.0" cy="566.3" r="2.05"/><circle cx="213.7" cy="564.4" r="2.05"/><circle cx="217.0" cy="548.3" r="2.05"/><circle cx="212.9" cy="558.4" r="2.05"/><circle cx="210.3" cy="579.3" r="2.05"/><circle cx="209.9" cy="553.8" r="2.05"/><circle cx="215.0" cy="551.9" r="2.05"/><circle cx="212.5" cy="553.5" r="2.05"/><circle cx="213.9" cy="578.7" r="2.05"/><circle cx="217.5" cy="563.8" r="2.05"/><circle cx="215.1" cy="582.8" r="2.05"/><circle cx="212.6" cy="569.2" r="2.05"/><circle cx="213.8" cy="572.4" r="2.05"/><circle cx="214.2" cy="556.3" r="2.05"/><circle cx="213.4" cy="566.5" r="2.05"/><circle cx="213.3" cy="556.9" r="2.05"/><circle cx="212.2" cy="557.6" r="2.05"/><circle cx="214.0" cy="570.8" r="2.05"/><circle cx="212.0" cy="554.2" r="2.05"/><circle cx="215.4" cy="564.1" r="2.05"/><circle cx="212.4" cy="568.1" r="2.05"/><circle cx="212.2" cy="554.6" r="2.05"/><circle cx="216.5" cy="550.2" r="2.05"/><circle cx="210.0" cy="556.2" r="2.05"/><circle cx="214.4" cy="561.0" r="2.05"/><circle cx="209.7" cy="574.5" r="2.05"/><circle cx="211.3" cy="568.4" r="2.05"/><circle cx="215.4" cy="578.9" r="2.05"/><circle cx="216.5" cy="557.3" r="2.05"/><circle cx="215.0" cy="578.4" r="2.05"/><circle cx="215.1" cy="556.2" r="2.05"/><circle cx="215.6" cy="559.9" r="2.05"/><circle cx="211.5" cy="549.5" r="2.05"/><circle cx="216.3" cy="558.5" r="2.05"/><circle cx="210.5" cy="553.4" r="2.05"/><circle cx="216.4" cy="566.8" r="2.05"/><circle cx="217.6" cy="568.3" r="2.05"/><circle cx="216.8" cy="558.7" r="2.05"/><circle cx="216.5" cy="555.5" r="2.05"/><circle cx="212.3" cy="556.5" r="2.05"/><circle cx="213.3" cy="561.8" r="2.05"/><circle cx="213.0" cy="546.6" r="2.05"/><circle cx="213.6" cy="586.3" r="2.05"/><circle cx="214.8" cy="529.2" r="2.05"/><circle cx="216.5" cy="539.0" r="2.05"/><circle cx="213.5" cy="586.5" r="2.05"/><circle cx="209.8" cy="603.0" r="2.05"/><circle cx="212.5" cy="601.0" r="2.05"/><circle cx="211.0" cy="608.5" r="2.05"/><circle cx="214.0" cy="547.0" r="2.05"/></g><g stroke="#1a1a3a" stroke-opacity="0.75" stroke-width="0.7" fill="none"><rect x="209.2" y="557.0" width="9.5" height="16.0" fill="none" fill-opacity="0.85"/><line x1="209.2" y1="565.5" x2="218.8" y2="565.5"/></g><g stroke="#2c2c2c" stroke-width="0.6" fill="none"><line x1="234.5" y1="559.0" x2="236.1" y2="559.0"/><line x1="234.7" y1="531.0" x2="234.7" y2="542.0"/><line x1="234.7" y1="554.0" x2="234.7" y2="559.0"/></g><g fill="#0000f0"><circle cx="231.1" cy="535.0" r="2.05"/><circle cx="231.7" cy="545.7" r="2.05"/><circle cx="237.2" cy="547.0" r="2.05"/><circle cx="234.3" cy="538.9" r="2.05"/><circle cx="235.4" cy="556.8" r="2.05"/><circle cx="238.2" cy="548.8" r="2.05"/><circle cx="234.0" cy="558.0" r="2.05"/><circle cx="231.5" cy="546.8" r="2.05"/><circle cx="231.9" cy="544.2" r="2.05"/><circle cx="230.8" cy="543.2" r="2.05"/><circle cx="231.7" cy="548.4" r="2.05"/><circle cx="237.7" cy="551.7" r="2.05"/><circle cx="231.7" cy="547.2" r="2.05"/><circle cx="232.6" cy="549.6" r="2.05"/><circle cx="231.1" cy="547.4" r="2.05"/><circle cx="236.9" cy="542.3" r="2.05"/><circle cx="236.5" cy="544.0" r="2.05"/><circle cx="236.4" cy="558.8" r="2.05"/><circle cx="234.4" cy="554.3" r="2.05"/><circle cx="238.4" cy="554.2" r="2.05"/><circle cx="236.4" cy="545.2" r="2.05"/><circle cx="235.9" cy="549.5" r="2.05"/><circle cx="237.2" cy="548.1" r="2.05"/><circle cx="236.5" cy="554.7" r="2.05"/><circle cx="232.0" cy="551.7" r="2.05"/><circle cx="231.2" cy="554.6" r="2.05"/><circle cx="233.6" cy="540.1" r="2.05"/><circle cx="236.1" cy="539.5" r="2.05"/><circle cx="231.9" cy="543.7" r="2.05"/><circle cx="235.9" cy="550.5" r="2.05"/><circle cx="235.7" cy="539.9" r="2.05"/><circle cx="237.0" cy="540.4" r="2.05"/><circle cx="238.3" cy="552.3" r="2.05"/><circle cx="233.0" cy="550.5" r="2.05"/><circle cx="231.2" cy="536.8" r="2.05"/><circle cx="237.3" cy="545.7" r="2.05"/><circle cx="238.5" cy="542.0" r="2.05"/><circle cx="237.4" cy="558.6" r="2.05"/><circle cx="234.1" cy="541.8" r="2.05"/><circle cx="237.8" cy="543.5" r="2.05"/><circle cx="235.5" cy="538.3" r="2.05"/><circle cx="237.9" cy="557.5" r="2.05"/><circle cx="230.7" cy="550.6" r="2.05"/><circle cx="232.8" cy="541.2" r="2.05"/><circle cx="237.2" cy="537.5" r="2.05"/><circle cx="237.8" cy="553.5" r="2.05"/><circle cx="237.2" cy="552.4" r="2.05"/><circle cx="232.9" cy="555.8" r="2.05"/><circle cx="237.5" cy="539.4" r="2.05"/><circle cx="238.0" cy="552.7" r="2.05"/><circle cx="233.5" cy="535.3" r="2.05"/><circle cx="237.1" cy="557.7" r="2.05"/><circle cx="232.3" cy="553.8" r="2.05"/><circle cx="232.6" cy="548.0" r="2.05"/><circle cx="234.4" cy="537.5" r="2.05"/><circle cx="232.4" cy="539.7" r="2.05"/><circle cx="237.0" cy="547.6" r="2.05"/><circle cx="237.2" cy="544.3" r="2.05"/><circle cx="236.9" cy="549.0" r="2.05"/><circle cx="237.9" cy="549.3" r="2.05"/><circle cx="237.8" cy="559.7" r="2.05"/><circle cx="235.4" cy="538.0" r="2.05"/><circle cx="232.2" cy="546.6" r="2.05"/><circle cx="236.3" cy="550.0" r="2.05"/><circle cx="233.6" cy="553.3" r="2.05"/><circle cx="234.8" cy="539.7" r="2.05"/><circle cx="231.9" cy="544.4" r="2.05"/><circle cx="233.7" cy="556.4" r="2.05"/><circle cx="237.0" cy="557.9" r="2.05"/><circle cx="231.9" cy="555.8" r="2.05"/><circle cx="234.9" cy="541.3" r="2.05"/><circle cx="230.9" cy="543.3" r="2.05"/><circle cx="232.5" cy="533.5" r="2.05"/><circle cx="237.1" cy="560.0" r="2.05"/><circle cx="236.0" cy="526.0" r="2.05"/><circle cx="235.2" cy="528.5" r="2.05"/><circle cx="231.2" cy="561.5" r="2.05"/><circle cx="233.5" cy="563.5" r="2.05"/><circle cx="230.6" cy="559.5" r="2.05"/></g><g stroke="#1a1a3a" stroke-opacity="0.75" stroke-width="0.7" fill="none"><rect x="229.9" y="542.0" width="9.5" height="12.0" fill="none" fill-opacity="0.85"/><line x1="229.9" y1="548.0" x2="239.4" y2="548.0"/></g><g stroke="#2c2c2c" stroke-width="0.6" fill="none"><line x1="253.6" y1="563.0" x2="255.2" y2="563.0"/><line x1="253.8" y1="533.0" x2="253.8" y2="542.5"/><line x1="253.8" y1="554.5" x2="253.8" y2="563.0"/></g><g fill="#0000f0"><circle cx="254.4" cy="555.3" r="2.05"/><circle cx="251.8" cy="540.7" r="2.05"/><circle cx="257.6" cy="550.6" r="2.05"/><circle cx="256.0" cy="539.0" r="2.05"/><circle cx="251.7" cy="557.8" r="2.05"/><circle cx="251.1" cy="554.3" r="2.05"/><circle cx="250.3" cy="550.3" r="2.05"/><circle cx="256.9" cy="558.9" r="2.05"/><circle cx="253.4" cy="552.3" r="2.05"/><circle cx="250.1" cy="542.1" r="2.05"/><circle cx="250.6" cy="541.1" r="2.05"/><circle cx="257.7" cy="543.4" r="2.05"/><circle cx="255.0" cy="548.4" r="2.05"/><circle cx="257.6" cy="559.5" r="2.05"/><circle cx="253.4" cy="544.3" r="2.05"/><circle cx="250.9" cy="540.6" r="2.05"/><circle cx="251.5" cy="542.6" r="2.05"/><circle cx="252.6" cy="555.1" r="2.05"/><circle cx="257.2" cy="550.5" r="2.05"/><circle cx="250.0" cy="561.8" r="2.05"/><circle cx="256.2" cy="538.6" r="2.05"/><circle cx="257.9" cy="545.5" r="2.05"/><circle cx="255.9" cy="553.3" r="2.05"/><circle cx="257.5" cy="550.6" r="2.05"/><circle cx="254.6" cy="545.4" r="2.05"/><circle cx="256.0" cy="541.7" r="2.05"/><circle cx="251.8" cy="554.7" r="2.05"/><circle cx="250.6" cy="553.4" r="2.05"/><circle cx="251.6" cy="543.2" r="2.05"/><circle cx="250.8" cy="549.6" r="2.05"/><circle cx="255.6" cy="548.3" r="2.05"/><circle cx="251.2" cy="547.6" r="2.05"/><circle cx="251.5" cy="553.2" r="2.05"/><circle cx="257.1" cy="541.2" r="2.05"/><circle cx="250.4" cy="554.7" r="2.05"/><circle cx="257.4" cy="555.8" r="2.05"/><circle cx="253.4" cy="555.3" r="2.05"/><circle cx="253.6" cy="539.4" r="2.05"/><circle cx="254.9" cy="561.8" r="2.05"/><circle cx="250.1" cy="552.6" r="2.05"/><circle cx="255.6" cy="553.5" r="2.05"/><circle cx="256.9" cy="543.9" r="2.05"/><circle cx="251.8" cy="547.2" r="2.05"/><circle cx="251.9" cy="544.2" r="2.05"/><circle cx="256.7" cy="551.5" r="2.05"/><circle cx="253.7" cy="546.0" r="2.05"/><circle cx="252.3" cy="553.3" r="2.05"/><circle cx="257.8" cy="552.3" r="2.05"/><circle cx="250.1" cy="546.3" r="2.05"/><circle cx="251.4" cy="558.6" r="2.05"/><circle cx="253.6" cy="540.2" r="2.05"/><circle cx="251.3" cy="547.3" r="2.05"/><circle cx="252.7" cy="555.1" r="2.05"/><circle cx="257.4" cy="547.1" r="2.05"/><circle cx="257.1" cy="554.5" r="2.05"/><circle cx="250.1" cy="552.9" r="2.05"/><circle cx="257.8" cy="547.8" r="2.05"/><circle cx="249.7" cy="541.0" r="2.05"/><circle cx="250.8" cy="551.6" r="2.05"/><circle cx="249.6" cy="540.8" r="2.05"/><circle cx="251.2" cy="553.9" r="2.05"/><circle cx="253.3" cy="538.7" r="2.05"/><circle cx="254.4" cy="553.9" r="2.05"/><circle cx="250.8" cy="545.4" r="2.05"/><circle cx="255.6" cy="555.0" r="2.05"/><circle cx="251.3" cy="561.7" r="2.05"/><circle cx="254.7" cy="552.1" r="2.05"/><circle cx="253.8" cy="550.7" r="2.05"/><circle cx="254.7" cy="548.0" r="2.05"/><circle cx="255.5" cy="554.5" r="2.05"/><circle cx="251.3" cy="553.1" r="2.05"/><circle cx="253.0" cy="561.1" r="2.05"/><circle cx="254.9" cy="538.5" r="2.05"/><circle cx="251.6" cy="563.4" r="2.05"/><circle cx="254.0" cy="526.8" r="2.05"/><circle cx="255.5" cy="532.5" r="2.05"/><circle cx="257.3" cy="534.8" r="2.05"/><circle cx="253.2" cy="533.5" r="2.05"/><circle cx="256.8" cy="537.5" r="2.05"/></g><g stroke="#1a1a3a" stroke-opacity="0.75" stroke-width="0.7" fill="none"><rect x="249.1" y="542.5" width="9.5" height="12.0" fill="none" fill-opacity="0.85"/><line x1="249.1" y1="549.0" x2="258.6" y2="549.0"/></g><text x="214.6" y="621.9" font-family='"Liberation Serif","Times New Roman",serif' font-size="5.6" fill="#4a4a4a" text-anchor="middle">V1</text><text x="234.4" y="578.2" font-family='"Liberation Serif","Times New Roman",serif' font-size="5.6" fill="#4a4a4a" text-anchor="middle">V2</text><text x="253.6" y="577.7" font-family='"Liberation Serif","Times New Roman",serif' font-size="5.6" fill="#4a4a4a" text-anchor="middle">V3</text><g fill="#ffa400"><circle cx="302.1" cy="573.9" r="2.05"/><circle cx="302.6" cy="553.1" r="2.05"/><circle cx="299.4" cy="586.8" r="2.05"/><circle cx="299.3" cy="568.2" r="2.05"/><circle cx="296.9" cy="572.5" r="2.05"/><circle cx="302.3" cy="558.4" r="2.05"/><circle cx="298.4" cy="560.4" r="2.05"/><circle cx="300.3" cy="571.2" r="2.05"/><circle cx="299.0" cy="581.1" r="2.05"/><circle cx="299.6" cy="566.0" r="2.05"/><circle cx="302.2" cy="580.3" r="2.05"/><circle cx="302.6" cy="579.6" r="2.05"/><circle cx="298.5" cy="556.9" r="2.05"/><circle cx="301.6" cy="583.9" r="2.05"/><circle cx="303.3" cy="589.8" r="2.05"/><circle cx="299.5" cy="575.3" r="2.05"/><circle cx="299.8" cy="550.0" r="2.05"/><circle cx="295.5" cy="564.2" r="2.05"/><circle cx="296.8" cy="574.5" r="2.05"/><circle cx="296.2" cy="563.7" r="2.05"/><circle cx="295.6" cy="565.4" r="2.05"/><circle cx="296.1" cy="589.3" r="2.05"/><circle cx="295.4" cy="562.9" r="2.05"/><circle cx="300.3" cy="557.6" r="2.05"/><circle cx="301.2" cy="551.9" r="2.05"/><circle cx="296.2" cy="558.4" r="2.05"/><circle cx="295.7" cy="579.5" r="2.05"/><circle cx="296.3" cy="550.9" r="2.05"/><circle cx="297.6" cy="550.6" r="2.05"/><circle cx="296.3" cy="566.1" r="2.05"/><circle cx="300.3" cy="559.8" r="2.05"/><circle cx="302.5" cy="569.4" r="2.05"/><circle cx="301.6" cy="575.6" r="2.05"/><circle cx="296.7" cy="578.9" r="2.05"/><circle cx="298.6" cy="579.5" r="2.05"/><circle cx="299.7" cy="577.3" r="2.05"/><circle cx="301.8" cy="584.2" r="2.05"/><circle cx="298.1" cy="560.6" r="2.05"/><circle cx="299.0" cy="573.6" r="2.05"/><circle cx="303.0" cy="588.7" r="2.05"/><circle cx="302.1" cy="562.8" r="2.05"/><circle cx="299.6" cy="568.0" r="2.05"/><circle cx="303.3" cy="562.1" r="2.05"/><circle cx="298.8" cy="574.5" r="2.05"/><circle cx="300.6" cy="561.7" r="2.05"/><circle cx="295.9" cy="555.3" r="2.05"/><circle cx="298.9" cy="577.4" r="2.05"/><circle cx="296.5" cy="562.9" r="2.05"/><circle cx="303.4" cy="565.4" r="2.05"/><circle cx="300.6" cy="570.5" r="2.05"/><circle cx="302.7" cy="575.3" r="2.05"/><circle cx="297.5" cy="583.6" r="2.05"/><circle cx="301.0" cy="569.5" r="2.05"/><circle cx="303.1" cy="563.2" r="2.05"/><circle cx="300.5" cy="581.5" r="2.05"/><circle cx="298.9" cy="565.4" r="2.05"/><circle cx="303.3" cy="581.1" r="2.05"/><circle cx="300.7" cy="563.0" r="2.05"/><circle cx="296.3" cy="576.2" r="2.05"/><circle cx="299.2" cy="555.6" r="2.05"/><circle cx="299.8" cy="564.6" r="2.05"/><circle cx="296.4" cy="569.5" r="2.05"/><circle cx="297.8" cy="570.8" r="2.05"/><circle cx="297.3" cy="556.8" r="2.05"/><circle cx="296.0" cy="571.4" r="2.05"/><circle cx="300.4" cy="558.6" r="2.05"/><circle cx="297.0" cy="549.0" r="2.05"/><circle cx="301.3" cy="557.7" r="2.05"/><circle cx="300.4" cy="550.1" r="2.05"/><circle cx="299.2" cy="569.5" r="2.05"/><circle cx="297.2" cy="562.0" r="2.05"/><circle cx="299.6" cy="574.4" r="2.05"/><circle cx="298.9" cy="548.0" r="2.05"/><circle cx="299.9" cy="590.0" r="2.05"/><circle cx="303.6" cy="595.5" r="2.05"/><circle cx="299.5" cy="611.0" r="2.05"/><circle cx="297.8" cy="623.0" r="2.05"/><circle cx="300.5" cy="623.0" r="2.05"/></g><g stroke="#2c2c2c" stroke-width="0.6" fill="none"><line x1="299.3" y1="623.0" x2="300.9" y2="623.0"/><line x1="299.5" y1="548.0" x2="299.5" y2="557.0"/><line x1="299.5" y1="574.2" x2="299.5" y2="623.0"/></g><g stroke="#4a2a00" stroke-opacity="0.75" stroke-width="0.7" fill="none"><rect x="294.6" y="557.0" width="9.8" height="17.2" fill="#ffa400" fill-opacity="0.85"/><line x1="294.6" y1="565.5" x2="304.4" y2="565.5"/></g><g fill="#ffa400"><circle cx="321.3" cy="551.5" r="2.05"/><circle cx="316.1" cy="545.5" r="2.05"/><circle cx="316.5" cy="536.9" r="2.05"/><circle cx="322.4" cy="542.0" r="2.05"/><circle cx="315.4" cy="541.4" r="2.05"/><circle cx="314.7" cy="556.5" r="2.05"/><circle cx="314.6" cy="550.2" r="2.05"/><circle cx="317.4" cy="539.2" r="2.05"/><circle cx="315.0" cy="533.8" r="2.05"/><circle cx="316.0" cy="549.2" r="2.05"/><circle cx="315.4" cy="556.1" r="2.05"/><circle cx="316.9" cy="541.9" r="2.05"/><circle cx="319.3" cy="538.3" r="2.05"/><circle cx="321.2" cy="553.4" r="2.05"/><circle cx="320.3" cy="548.6" r="2.05"/><circle cx="320.3" cy="536.9" r="2.05"/><circle cx="320.7" cy="545.5" r="2.05"/><circle cx="320.1" cy="536.6" r="2.05"/><circle cx="321.4" cy="548.1" r="2.05"/><circle cx="314.1" cy="543.0" r="2.05"/><circle cx="318.3" cy="545.9" r="2.05"/><circle cx="322.2" cy="535.2" r="2.05"/><circle cx="320.7" cy="538.1" r="2.05"/><circle cx="321.4" cy="541.6" r="2.05"/><circle cx="317.9" cy="539.3" r="2.05"/><circle cx="317.9" cy="540.5" r="2.05"/><circle cx="317.4" cy="544.0" r="2.05"/><circle cx="318.8" cy="538.9" r="2.05"/><circle cx="320.7" cy="540.1" r="2.05"/><circle cx="321.2" cy="549.1" r="2.05"/><circle cx="315.6" cy="537.0" r="2.05"/><circle cx="316.7" cy="545.0" r="2.05"/><circle cx="319.0" cy="550.6" r="2.05"/><circle cx="314.8" cy="552.2" r="2.05"/><circle cx="321.2" cy="550.4" r="2.05"/><circle cx="321.1" cy="541.8" r="2.05"/><circle cx="317.7" cy="549.6" r="2.05"/><circle cx="321.7" cy="543.7" r="2.05"/><circle cx="318.8" cy="547.2" r="2.05"/><circle cx="318.3" cy="545.1" r="2.05"/><circle cx="318.6" cy="555.5" r="2.05"/><circle cx="322.5" cy="538.9" r="2.05"/><circle cx="319.9" cy="536.1" r="2.05"/><circle cx="317.4" cy="544.0" r="2.05"/><circle cx="317.0" cy="538.8" r="2.05"/><circle cx="322.1" cy="552.3" r="2.05"/><circle cx="314.9" cy="541.0" r="2.05"/><circle cx="317.2" cy="536.9" r="2.05"/><circle cx="318.9" cy="537.3" r="2.05"/><circle cx="321.5" cy="550.2" r="2.05"/><circle cx="317.8" cy="552.9" r="2.05"/><circle cx="319.3" cy="543.1" r="2.05"/><circle cx="318.6" cy="551.4" r="2.05"/><circle cx="321.0" cy="544.8" r="2.05"/><circle cx="322.3" cy="547.9" r="2.05"/><circle cx="321.0" cy="550.4" r="2.05"/><circle cx="321.6" cy="541.4" r="2.05"/><circle cx="319.9" cy="544.7" r="2.05"/><circle cx="321.6" cy="554.1" r="2.05"/><circle cx="316.5" cy="541.2" r="2.05"/><circle cx="318.4" cy="546.9" r="2.05"/><circle cx="315.6" cy="540.2" r="2.05"/><circle cx="319.4" cy="544.9" r="2.05"/><circle cx="322.4" cy="539.5" r="2.05"/><circle cx="319.4" cy="540.8" r="2.05"/><circle cx="320.7" cy="551.9" r="2.05"/><circle cx="316.7" cy="546.9" r="2.05"/><circle cx="316.7" cy="544.8" r="2.05"/><circle cx="321.2" cy="544.4" r="2.05"/><circle cx="315.8" cy="535.6" r="2.05"/><circle cx="318.3" cy="539.3" r="2.05"/><circle cx="319.5" cy="539.5" r="2.05"/><circle cx="318.5" cy="532.0" r="2.05"/><circle cx="320.8" cy="557.7" r="2.05"/></g><g stroke="#2c2c2c" stroke-width="0.6" fill="none"><line x1="318.1" y1="557.0" x2="319.7" y2="557.0"/><line x1="318.3" y1="533.0" x2="318.3" y2="540.0"/><line x1="318.3" y1="549.7" x2="318.3" y2="557.0"/></g><g stroke="#4a2a00" stroke-opacity="0.75" stroke-width="0.7" fill="none"><rect x="313.4" y="540.0" width="9.8" height="9.7" fill="#ffa400" fill-opacity="0.85"/><line x1="313.4" y1="545.0" x2="323.2" y2="545.0"/></g><g fill="#ffa400"><circle cx="339.3" cy="543.1" r="2.05"/><circle cx="335.8" cy="541.8" r="2.05"/><circle cx="340.9" cy="547.0" r="2.05"/><circle cx="335.9" cy="547.7" r="2.05"/><circle cx="338.9" cy="547.1" r="2.05"/><circle cx="341.3" cy="549.5" r="2.05"/><circle cx="335.0" cy="535.8" r="2.05"/><circle cx="337.2" cy="557.7" r="2.05"/><circle cx="340.5" cy="546.0" r="2.05"/><circle cx="336.7" cy="542.3" r="2.05"/><circle cx="335.3" cy="548.6" r="2.05"/><circle cx="337.4" cy="553.1" r="2.05"/><circle cx="338.3" cy="539.4" r="2.05"/><circle cx="342.0" cy="543.1" r="2.05"/><circle cx="339.4" cy="546.6" r="2.05"/><circle cx="339.7" cy="552.7" r="2.05"/><circle cx="336.6" cy="543.0" r="2.05"/><circle cx="341.7" cy="549.7" r="2.05"/><circle cx="341.4" cy="538.7" r="2.05"/><circle cx="342.6" cy="541.7" r="2.05"/><circle cx="338.7" cy="554.5" r="2.05"/><circle cx="337.8" cy="550.3" r="2.05"/><circle cx="340.5" cy="543.3" r="2.05"/><circle cx="341.9" cy="546.1" r="2.05"/><circle cx="338.6" cy="551.3" r="2.05"/><circle cx="336.0" cy="546.5" r="2.05"/><circle cx="337.5" cy="539.7" r="2.05"/><circle cx="336.9" cy="552.7" r="2.05"/><circle cx="339.0" cy="541.6" r="2.05"/><circle cx="337.7" cy="543.6" r="2.05"/><circle cx="335.5" cy="542.8" r="2.05"/><circle cx="341.4" cy="546.6" r="2.05"/><circle cx="336.1" cy="541.7" r="2.05"/><circle cx="336.9" cy="549.5" r="2.05"/><circle cx="340.1" cy="545.2" r="2.05"/><circle cx="337.4" cy="547.0" r="2.05"/><circle cx="335.3" cy="551.5" r="2.05"/><circle cx="336.8" cy="554.6" r="2.05"/><circle cx="338.2" cy="547.0" r="2.05"/><circle cx="341.5" cy="541.7" r="2.05"/><circle cx="337.5" cy="546.5" r="2.05"/><circle cx="340.6" cy="540.9" r="2.05"/><circle cx="336.2" cy="531.6" r="2.05"/><circle cx="336.4" cy="553.4" r="2.05"/><circle cx="338.3" cy="542.3" r="2.05"/><circle cx="336.7" cy="552.9" r="2.05"/><circle cx="342.1" cy="553.5" r="2.05"/><circle cx="336.6" cy="538.9" r="2.05"/><circle cx="339.6" cy="541.3" r="2.05"/><circle cx="335.5" cy="548.5" r="2.05"/><circle cx="336.8" cy="535.8" r="2.05"/><circle cx="341.0" cy="544.2" r="2.05"/><circle cx="339.3" cy="536.9" r="2.05"/><circle cx="337.1" cy="552.2" r="2.05"/><circle cx="336.0" cy="542.6" r="2.05"/><circle cx="341.6" cy="547.0" r="2.05"/><circle cx="335.4" cy="540.3" r="2.05"/><circle cx="339.2" cy="554.9" r="2.05"/><circle cx="337.0" cy="539.4" r="2.05"/><circle cx="335.1" cy="551.7" r="2.05"/><circle cx="335.6" cy="543.0" r="2.05"/><circle cx="340.5" cy="549.9" r="2.05"/><circle cx="342.1" cy="543.5" r="2.05"/><circle cx="341.0" cy="552.4" r="2.05"/><circle cx="335.6" cy="555.9" r="2.05"/><circle cx="336.8" cy="535.1" r="2.05"/><circle cx="340.1" cy="556.0" r="2.05"/><circle cx="337.5" cy="547.1" r="2.05"/><circle cx="340.4" cy="535.7" r="2.05"/><circle cx="336.6" cy="550.7" r="2.05"/><circle cx="339.8" cy="548.9" r="2.05"/><circle cx="336.0" cy="539.3" r="2.05"/><circle cx="336.8" cy="530.6" r="2.05"/><circle cx="340.8" cy="558.0" r="2.05"/></g><g stroke="#2c2c2c" stroke-width="0.6" fill="none"><line x1="338.5" y1="557.5" x2="340.1" y2="557.5"/><line x1="338.7" y1="533.0" x2="338.7" y2="540.0"/><line x1="338.7" y1="550.0" x2="338.7" y2="557.5"/></g><g stroke="#4a2a00" stroke-opacity="0.75" stroke-width="0.7" fill="none"><rect x="333.8" y="540.0" width="9.8" height="10.0" fill="#ffa400" fill-opacity="0.85"/><line x1="333.8" y1="545.0" x2="343.6" y2="545.0"/></g><text x="299.8" y="636.9" font-family='"Liberation Serif","Times New Roman",serif' font-size="5.6" fill="#4a4a4a" text-anchor="middle">V1</text><text x="318.8" y="570.1" font-family='"Liberation Serif","Times New Roman",serif' font-size="5.6" fill="#4a4a4a" text-anchor="middle">V2</text><text x="338.8" y="571.4" font-family='"Liberation Serif","Times New Roman",serif' font-size="5.6" fill="#4a4a4a" text-anchor="middle">V3</text><g fill="#ff0090"><circle cx="379.0" cy="560.9" r="2.1"/><circle cx="379.0" cy="551.3" r="2.1"/><circle cx="381.2" cy="566.0" r="2.1"/><circle cx="381.9" cy="568.5" r="2.1"/><circle cx="384.1" cy="571.7" r="2.1"/><circle cx="380.2" cy="564.4" r="2.1"/><circle cx="384.7" cy="570.0" r="2.1"/><circle cx="380.8" cy="554.5" r="2.1"/><circle cx="381.6" cy="552.5" r="2.1"/><circle cx="378.7" cy="569.0" r="2.1"/><circle cx="381.1" cy="572.1" r="2.1"/><circle cx="379.1" cy="551.8" r="2.1"/><circle cx="379.1" cy="571.6" r="2.1"/><circle cx="380.8" cy="554.6" r="2.1"/><circle cx="380.5" cy="577.7" r="2.1"/><circle cx="386.4" cy="575.2" r="2.1"/><circle cx="384.5" cy="562.0" r="2.1"/><circle cx="382.0" cy="559.1" r="2.1"/><circle cx="381.1" cy="561.8" r="2.1"/><circle cx="379.5" cy="549.2" r="2.1"/><circle cx="386.5" cy="573.5" r="2.1"/><circle cx="384.5" cy="559.6" r="2.1"/><circle cx="384.0" cy="561.1" r="2.1"/><circle cx="382.5" cy="549.2" r="2.1"/><circle cx="382.3" cy="578.9" r="2.1"/><circle cx="383.0" cy="568.0" r="2.1"/><circle cx="385.1" cy="567.4" r="2.1"/><circle cx="379.1" cy="560.4" r="2.1"/><circle cx="380.9" cy="558.4" r="2.1"/><circle cx="383.3" cy="550.2" r="2.1"/><circle cx="383.3" cy="578.2" r="2.1"/><circle cx="380.8" cy="560.1" r="2.1"/><circle cx="382.2" cy="572.1" r="2.1"/><circle cx="380.4" cy="566.0" r="2.1"/><circle cx="384.6" cy="560.6" r="2.1"/><circle cx="384.3" cy="567.8" r="2.1"/><circle cx="383.0" cy="562.7" r="2.1"/><circle cx="382.4" cy="570.6" r="2.1"/><circle cx="381.2" cy="571.9" r="2.1"/><circle cx="386.1" cy="559.5" r="2.1"/><circle cx="381.5" cy="571.4" r="2.1"/><circle cx="385.5" cy="573.6" r="2.1"/><circle cx="380.1" cy="551.0" r="2.1"/><circle cx="384.3" cy="558.6" r="2.1"/><circle cx="385.1" cy="555.8" r="2.1"/><circle cx="385.7" cy="557.6" r="2.1"/><circle cx="381.7" cy="569.2" r="2.1"/><circle cx="380.4" cy="568.3" r="2.1"/><circle cx="380.4" cy="570.7" r="2.1"/><circle cx="384.6" cy="565.5" r="2.1"/><circle cx="381.4" cy="558.8" r="2.1"/><circle cx="382.6" cy="563.8" r="2.1"/><circle cx="379.3" cy="559.3" r="2.1"/><circle cx="378.8" cy="567.3" r="2.1"/><circle cx="379.4" cy="561.4" r="2.1"/><circle cx="383.4" cy="558.1" r="2.1"/><circle cx="382.3" cy="572.4" r="2.1"/><circle cx="380.3" cy="570.5" r="2.1"/><circle cx="386.4" cy="561.2" r="2.1"/><circle cx="384.1" cy="561.8" r="2.1"/><circle cx="384.2" cy="550.9" r="2.1"/><circle cx="380.8" cy="550.5" r="2.1"/><circle cx="378.9" cy="562.2" r="2.1"/><circle cx="385.2" cy="568.3" r="2.1"/><circle cx="380.3" cy="567.2" r="2.1"/><circle cx="384.1" cy="557.2" r="2.1"/><circle cx="380.1" cy="577.0" r="2.1"/><circle cx="385.3" cy="549.1" r="2.1"/><circle cx="381.4" cy="571.2" r="2.1"/><circle cx="380.3" cy="552.2" r="2.1"/><circle cx="381.8" cy="566.6" r="2.1"/><circle cx="383.3" cy="556.7" r="2.1"/><circle cx="380.7" cy="553.2" r="2.1"/><circle cx="379.0" cy="578.0" r="2.1"/><circle cx="385.6" cy="553.2" r="2.1"/><circle cx="384.6" cy="558.1" r="2.1"/><circle cx="382.9" cy="552.8" r="2.1"/><circle cx="381.2" cy="558.0" r="2.1"/><circle cx="383.6" cy="562.0" r="2.1"/><circle cx="380.1" cy="577.5" r="2.1"/><circle cx="382.6" cy="548.0" r="2.1"/><circle cx="385.3" cy="580.0" r="2.1"/><circle cx="381.2" cy="604.4" r="2.1"/><circle cx="385.6" cy="608.0" r="2.1"/><circle cx="382.0" cy="623.0" r="2.1"/><circle cx="385.5" cy="622.5" r="2.1"/><circle cx="381.3" cy="654.0" r="2.1"/><circle cx="381.5" cy="584.5" r="2.1"/><circle cx="384.0" cy="583.0" r="2.1"/></g><g stroke="#2c2c2c" stroke-width="0.6" fill="none"><line x1="382.7" y1="654.0" x2="384.3" y2="654.0"/><line x1="382.9" y1="548.0" x2="382.9" y2="557.7"/><line x1="382.9" y1="569.8" x2="382.9" y2="654.0"/></g><g stroke="#5a0030" stroke-opacity="0.75" stroke-width="0.7" fill="none"><rect x="378.0" y="557.7" width="9.8" height="12.1" fill="none" fill-opacity="0.85"/><line x1="378.0" y1="562.0" x2="387.8" y2="562.0"/></g><g fill="#ff0090"><circle cx="397.3" cy="551.5" r="2.1"/><circle cx="398.2" cy="554.3" r="2.1"/><circle cx="402.5" cy="547.4" r="2.1"/><circle cx="403.6" cy="562.0" r="2.1"/><circle cx="403.1" cy="545.3" r="2.1"/><circle cx="402.0" cy="538.6" r="2.1"/><circle cx="400.8" cy="548.3" r="2.1"/><circle cx="400.2" cy="538.0" r="2.1"/><circle cx="402.1" cy="548.8" r="2.1"/><circle cx="397.9" cy="553.8" r="2.1"/><circle cx="401.2" cy="542.3" r="2.1"/><circle cx="399.5" cy="554.2" r="2.1"/><circle cx="399.3" cy="546.3" r="2.1"/><circle cx="400.4" cy="548.5" r="2.1"/><circle cx="403.7" cy="541.6" r="2.1"/><circle cx="401.7" cy="541.4" r="2.1"/><circle cx="402.1" cy="546.2" r="2.1"/><circle cx="401.6" cy="542.1" r="2.1"/><circle cx="404.4" cy="541.7" r="2.1"/><circle cx="400.5" cy="556.1" r="2.1"/><circle cx="399.4" cy="540.6" r="2.1"/><circle cx="403.9" cy="539.1" r="2.1"/><circle cx="402.2" cy="550.7" r="2.1"/><circle cx="400.3" cy="546.0" r="2.1"/><circle cx="399.7" cy="556.2" r="2.1"/><circle cx="401.4" cy="551.7" r="2.1"/><circle cx="401.2" cy="535.7" r="2.1"/><circle cx="399.9" cy="550.5" r="2.1"/><circle cx="403.9" cy="549.2" r="2.1"/><circle cx="401.1" cy="548.7" r="2.1"/><circle cx="398.7" cy="558.5" r="2.1"/><circle cx="397.4" cy="556.5" r="2.1"/><circle cx="400.6" cy="538.5" r="2.1"/><circle cx="401.1" cy="543.7" r="2.1"/><circle cx="397.5" cy="546.7" r="2.1"/><circle cx="400.8" cy="556.5" r="2.1"/><circle cx="399.9" cy="542.0" r="2.1"/><circle cx="397.2" cy="543.1" r="2.1"/><circle cx="401.1" cy="551.6" r="2.1"/><circle cx="397.5" cy="541.8" r="2.1"/><circle cx="404.7" cy="530.6" r="2.1"/><circle cx="403.4" cy="544.3" r="2.1"/><circle cx="399.8" cy="541.0" r="2.1"/><circle cx="401.2" cy="555.7" r="2.1"/><circle cx="403.0" cy="545.8" r="2.1"/><circle cx="397.1" cy="540.3" r="2.1"/><circle cx="396.7" cy="545.7" r="2.1"/><circle cx="401.5" cy="553.5" r="2.1"/><circle cx="402.4" cy="546.7" r="2.1"/><circle cx="400.1" cy="552.3" r="2.1"/><circle cx="403.8" cy="554.5" r="2.1"/><circle cx="401.2" cy="537.1" r="2.1"/><circle cx="398.0" cy="560.6" r="2.1"/><circle cx="402.7" cy="536.2" r="2.1"/><circle cx="402.2" cy="536.9" r="2.1"/><circle cx="403.4" cy="557.7" r="2.1"/><circle cx="402.6" cy="551.2" r="2.1"/><circle cx="404.4" cy="551.0" r="2.1"/><circle cx="401.6" cy="544.5" r="2.1"/><circle cx="397.4" cy="542.4" r="2.1"/><circle cx="397.5" cy="540.2" r="2.1"/><circle cx="398.7" cy="556.9" r="2.1"/><circle cx="398.2" cy="539.1" r="2.1"/><circle cx="401.4" cy="550.6" r="2.1"/><circle cx="397.5" cy="546.4" r="2.1"/><circle cx="403.2" cy="546.2" r="2.1"/><circle cx="399.0" cy="549.5" r="2.1"/><circle cx="402.2" cy="555.4" r="2.1"/><circle cx="403.8" cy="541.4" r="2.1"/><circle cx="401.0" cy="548.4" r="2.1"/><circle cx="404.4" cy="539.1" r="2.1"/><circle cx="396.7" cy="530.2" r="2.1"/><circle cx="400.7" cy="542.3" r="2.1"/><circle cx="403.8" cy="549.2" r="2.1"/><circle cx="398.1" cy="545.7" r="2.1"/><circle cx="403.3" cy="542.8" r="2.1"/><circle cx="400.5" cy="541.3" r="2.1"/><circle cx="397.9" cy="537.1" r="2.1"/><circle cx="403.8" cy="550.0" r="2.1"/><circle cx="401.6" cy="537.8" r="2.1"/><circle cx="398.4" cy="552.0" r="2.1"/><circle cx="403.9" cy="548.6" r="2.1"/><circle cx="398.0" cy="542.8" r="2.1"/><circle cx="399.6" cy="543.6" r="2.1"/><circle cx="399.8" cy="533.8" r="2.1"/><circle cx="399.5" cy="547.3" r="2.1"/><circle cx="399.3" cy="556.7" r="2.1"/><circle cx="396.8" cy="545.4" r="2.1"/><circle cx="397.0" cy="551.6" r="2.1"/><circle cx="398.8" cy="553.1" r="2.1"/><circle cx="399.6" cy="530.0" r="2.1"/><circle cx="400.7" cy="563.2" r="2.1"/><circle cx="404.0" cy="529.5" r="2.1"/></g><g stroke="#2c2c2c" stroke-width="0.6" fill="none"><line x1="400.5" y1="562.0" x2="402.1" y2="562.0"/><line x1="400.7" y1="531.0" x2="400.7" y2="539.1"/><line x1="400.7" y1="550.1" x2="400.7" y2="562.0"/></g><g stroke="#5a0030" stroke-opacity="0.75" stroke-width="0.7" fill="none"><rect x="395.5" y="539.1" width="10.4" height="11.0" fill="none" fill-opacity="0.85"/><line x1="395.5" y1="545.0" x2="405.9" y2="545.0"/></g><g fill="#ff0090"><circle cx="420.7" cy="552.8" r="2.1"/><circle cx="426.5" cy="532.7" r="2.1"/><circle cx="426.8" cy="537.2" r="2.1"/><circle cx="425.0" cy="553.5" r="2.1"/><circle cx="425.8" cy="543.7" r="2.1"/><circle cx="423.8" cy="543.2" r="2.1"/><circle cx="421.5" cy="530.6" r="2.1"/><circle cx="425.8" cy="538.4" r="2.1"/><circle cx="426.4" cy="558.5" r="2.1"/><circle cx="424.9" cy="538.4" r="2.1"/><circle cx="424.7" cy="535.3" r="2.1"/><circle cx="421.4" cy="530.5" r="2.1"/><circle cx="423.1" cy="540.4" r="2.1"/><circle cx="421.3" cy="538.8" r="2.1"/><circle cx="421.2" cy="543.0" r="2.1"/><circle cx="421.6" cy="552.4" r="2.1"/><circle cx="420.5" cy="540.4" r="2.1"/><circle cx="419.6" cy="541.9" r="2.1"/><circle cx="418.6" cy="550.2" r="2.1"/><circle cx="422.2" cy="548.6" r="2.1"/><circle cx="423.3" cy="535.1" r="2.1"/><circle cx="419.1" cy="539.5" r="2.1"/><circle cx="421.0" cy="546.8" r="2.1"/><circle cx="423.1" cy="536.7" r="2.1"/><circle cx="426.4" cy="556.0" r="2.1"/><circle cx="423.4" cy="532.0" r="2.1"/><circle cx="419.2" cy="560.0" r="2.1"/><circle cx="426.8" cy="546.7" r="2.1"/><circle cx="421.5" cy="552.9" r="2.1"/><circle cx="425.8" cy="542.6" r="2.1"/><circle cx="419.1" cy="533.2" r="2.1"/><circle cx="420.8" cy="543.1" r="2.1"/><circle cx="419.9" cy="540.9" r="2.1"/><circle cx="420.8" cy="543.2" r="2.1"/><circle cx="421.9" cy="539.5" r="2.1"/><circle cx="420.2" cy="536.0" r="2.1"/><circle cx="423.9" cy="529.2" r="2.1"/><circle cx="420.2" cy="532.1" r="2.1"/><circle cx="423.5" cy="539.1" r="2.1"/><circle cx="425.9" cy="557.0" r="2.1"/><circle cx="421.4" cy="549.7" r="2.1"/><circle cx="423.0" cy="545.2" r="2.1"/><circle cx="425.9" cy="545.9" r="2.1"/><circle cx="420.3" cy="530.3" r="2.1"/><circle cx="421.2" cy="528.1" r="2.1"/><circle cx="421.9" cy="541.0" r="2.1"/><circle cx="424.2" cy="530.3" r="2.1"/><circle cx="422.0" cy="539.7" r="2.1"/><circle cx="418.9" cy="543.9" r="2.1"/><circle cx="422.7" cy="536.3" r="2.1"/><circle cx="423.5" cy="536.2" r="2.1"/><circle cx="418.6" cy="540.6" r="2.1"/><circle cx="426.3" cy="552.1" r="2.1"/><circle cx="419.0" cy="532.4" r="2.1"/><circle cx="421.3" cy="532.0" r="2.1"/><circle cx="419.3" cy="533.2" r="2.1"/><circle cx="424.9" cy="544.1" r="2.1"/><circle cx="419.3" cy="545.6" r="2.1"/><circle cx="423.0" cy="545.1" r="2.1"/><circle cx="423.4" cy="533.8" r="2.1"/><circle cx="423.6" cy="530.8" r="2.1"/><circle cx="421.3" cy="537.3" r="2.1"/><circle cx="424.5" cy="540.7" r="2.1"/><circle cx="424.9" cy="535.3" r="2.1"/><circle cx="425.0" cy="542.4" r="2.1"/><circle cx="426.7" cy="534.7" r="2.1"/><circle cx="422.9" cy="535.3" r="2.1"/><circle cx="426.4" cy="543.3" r="2.1"/><circle cx="422.5" cy="541.9" r="2.1"/><circle cx="424.0" cy="542.0" r="2.1"/><circle cx="426.8" cy="542.4" r="2.1"/><circle cx="420.4" cy="534.0" r="2.1"/><circle cx="418.7" cy="541.2" r="2.1"/><circle cx="419.6" cy="537.8" r="2.1"/><circle cx="423.2" cy="552.0" r="2.1"/><circle cx="420.0" cy="545.4" r="2.1"/><circle cx="419.8" cy="549.9" r="2.1"/><circle cx="420.0" cy="538.4" r="2.1"/><circle cx="419.9" cy="539.7" r="2.1"/><circle cx="420.5" cy="558.1" r="2.1"/><circle cx="426.8" cy="544.1" r="2.1"/><circle cx="421.4" cy="530.5" r="2.1"/><circle cx="425.2" cy="541.1" r="2.1"/><circle cx="426.1" cy="534.6" r="2.1"/><circle cx="419.4" cy="543.2" r="2.1"/><circle cx="423.9" cy="540.7" r="2.1"/><circle cx="421.9" cy="538.3" r="2.1"/><circle cx="423.2" cy="543.3" r="2.1"/><circle cx="421.9" cy="539.0" r="2.1"/><circle cx="423.8" cy="532.3" r="2.1"/><circle cx="420.7" cy="542.2" r="2.1"/><circle cx="422.1" cy="548.5" r="2.1"/><circle cx="424.9" cy="541.8" r="2.1"/><circle cx="423.9" cy="547.7" r="2.1"/><circle cx="420.3" cy="533.8" r="2.1"/><circle cx="423.1" cy="527.0" r="2.1"/><circle cx="421.0" cy="561.5" r="2.1"/><circle cx="420.5" cy="524.0" r="2.1"/></g><g stroke="#2c2c2c" stroke-width="0.6" fill="none"><line x1="422.5" y1="561.0" x2="424.1" y2="561.0"/><line x1="422.7" y1="526.0" x2="422.7" y2="536.0"/><line x1="422.7" y1="546.6" x2="422.7" y2="561.0"/></g><g stroke="#5a0030" stroke-opacity="0.75" stroke-width="0.7" fill="none"><rect x="417.5" y="536.0" width="10.4" height="10.6" fill="none" fill-opacity="0.85"/><line x1="417.5" y1="541.0" x2="427.9" y2="541.0"/></g><text x="382.3" y="663.9" font-family='"Liberation Serif","Times New Roman",serif' font-size="5.6" fill="#4a4a4a" text-anchor="middle">V1</text><text x="400.5" y="577.4" font-family='"Liberation Serif","Times New Roman",serif' font-size="5.6" fill="#4a4a4a" text-anchor="middle">V2</text><text x="423.3" y="573.9" font-family='"Liberation Serif","Times New Roman",serif' font-size="5.6" fill="#4a4a4a" text-anchor="middle">V3</text></g>
</svg>
<div class="ln" style="left:0px;top:274px;width:667px;height:2px;background:#919191"></div><div class="ln" style="left:0px;top:296px;width:667px;height:1px;background:#303030"></div><div class="ln" style="left:0px;top:317px;width:667px;height:1px;background:#303030"></div><div class="ln" style="left:0px;top:338px;width:667px;height:1px;background:#303030"></div><div class="ln" style="left:0px;top:361px;width:667px;height:1px;background:#303030"></div><div class="ln" style="left:0px;top:274px;width:1px;height:88px;background:#303030"></div><div class="ln" style="left:92px;top:274px;width:1px;height:88px;background:#303030"></div><div class="ln" style="left:282px;top:274px;width:2px;height:88px;background:#919191"></div><div class="ln" style="left:474px;top:274px;width:1px;height:88px;background:#303030"></div><div class="ln" style="left:666px;top:274px;width:1px;height:88px;background:#303030"></div><div class="tx b" style="left:92.5px;width:190.5px;top:278.7px">Ad26.COV2.S</div><div class="tx b" style="left:283.0px;width:191.6px;top:278.7px">ChAdOx1</div><div class="tx b" style="left:474.6px;width:192.0px;top:278.7px">mRNA platform</div><div class="tx l" style="left:8.8px;top:301.4px">Day 1 (V1)</div><div class="tx" style="left:92.5px;width:190.5px;top:297.9px">5,091.43 (3713.95 – 6,979.80)</div><div class="tx" style="left:283.0px;width:191.6px;top:297.9px">5,617.86 (4,476.63 – 7,050.04)</div><div class="tx" style="left:474.6px;width:192.0px;top:297.9px">5,763.49 (4,615.08 – 7,197.68)</div><div class="tx l" style="left:8.8px;top:322.4px">Day 28 (V2)</div><div class="tx" style="left:92.5px;width:190.5px;top:318.9px">33,706.93 (28,606.34 – 43,907.26)</div><div class="tx" style="left:283.0px;width:191.6px;top:318.9px">43,883.76 (38,638.65 – 49,840.88)</div><div class="tx" style="left:474.6px;width:192.0px;top:318.9px">43,338.20 (37,252.27 – 50,418.39)</div><div class="tx l" style="left:8.8px;top:343.4px">Day 90 (V3)</div><div class="tx" style="left:92.5px;width:190.5px;top:339.9px">17,102.53 (14,648.82 – 19,967.26)</div><div class="tx" style="left:283.0px;width:191.6px;top:339.9px">22,692.14 (19,919.80 – 25,850.31)</div><div class="tx" style="left:474.6px;width:192.0px;top:339.9px">25,057.14 (21,333.91 – 29,430.15)</div>
<div class="ln" style="left:2px;top:698px;width:664px;height:2px;background:#919191"></div><div class="ln" style="left:2px;top:720px;width:664px;height:1px;background:#303030"></div><div class="ln" style="left:2px;top:741px;width:664px;height:1px;background:#303030"></div><div class="ln" style="left:2px;top:762px;width:664px;height:1px;background:#303030"></div><div class="ln" style="left:2px;top:785px;width:664px;height:1px;background:#303030"></div><div class="ln" style="left:2px;top:698px;width:1px;height:88px;background:#303030"></div><div class="ln" style="left:90px;top:698px;width:1px;height:88px;background:#303030"></div><div class="ln" style="left:280px;top:698px;width:1px;height:88px;background:#303030"></div><div class="ln" style="left:482px;top:698px;width:1px;height:88px;background:#303030"></div><div class="ln" style="left:665px;top:698px;width:1px;height:88px;background:#303030"></div><div class="tx b" style="left:90.5px;width:189.8px;top:702.7px">Ad26.COV2.S</div><div class="tx b" style="left:280.4px;width:202.2px;top:702.7px">ChAdOx1</div><div class="tx b" style="left:482.6px;width:183.0px;top:702.7px">mRNA platform</div><div class="tx l" style="left:10.2px;top:725.1px">Day 1 (V1)</div><div class="tx" style="left:90.5px;width:189.8px;top:721.9px">193.36 (135.07 – 276.80)</div><div class="tx" style="left:280.4px;width:202.2px;top:721.9px">189.78 (133.41 – 269.97)</div><div class="tx" style="left:482.6px;width:183.0px;top:721.9px">165.51 (110.21 – 248.55)</div><div class="tx l" style="left:10.2px;top:746.2px">Day 28 (V2)</div><div class="tx" style="left:90.5px;width:189.8px;top:743.0px">1,315.93 (1,095.16 – 1,581.21)</div><div class="tx" style="left:280.4px;width:202.2px;top:743.0px">1,531.59 (1,356.14 – 1,729.73)</div><div class="tx" style="left:482.6px;width:183.0px;top:743.0px">1,629.64 (1,388.25 – 1,913.00)</div><div class="tx l" style="left:10.2px;top:767.1px">Day 90 (V3)</div><div class="tx" style="left:90.5px;width:189.8px;top:763.9px">1,527.31 (1,260.50 – 1,850.60)</div><div class="tx" style="left:280.4px;width:202.2px;top:763.9px">1,694.09 (1,485.01 – 1,932.61)</div><div class="tx" style="left:482.6px;width:183.0px;top:763.9px">2,078.37 (1,731.32 – 2,494.98)</div>
</div>
</body></html>
